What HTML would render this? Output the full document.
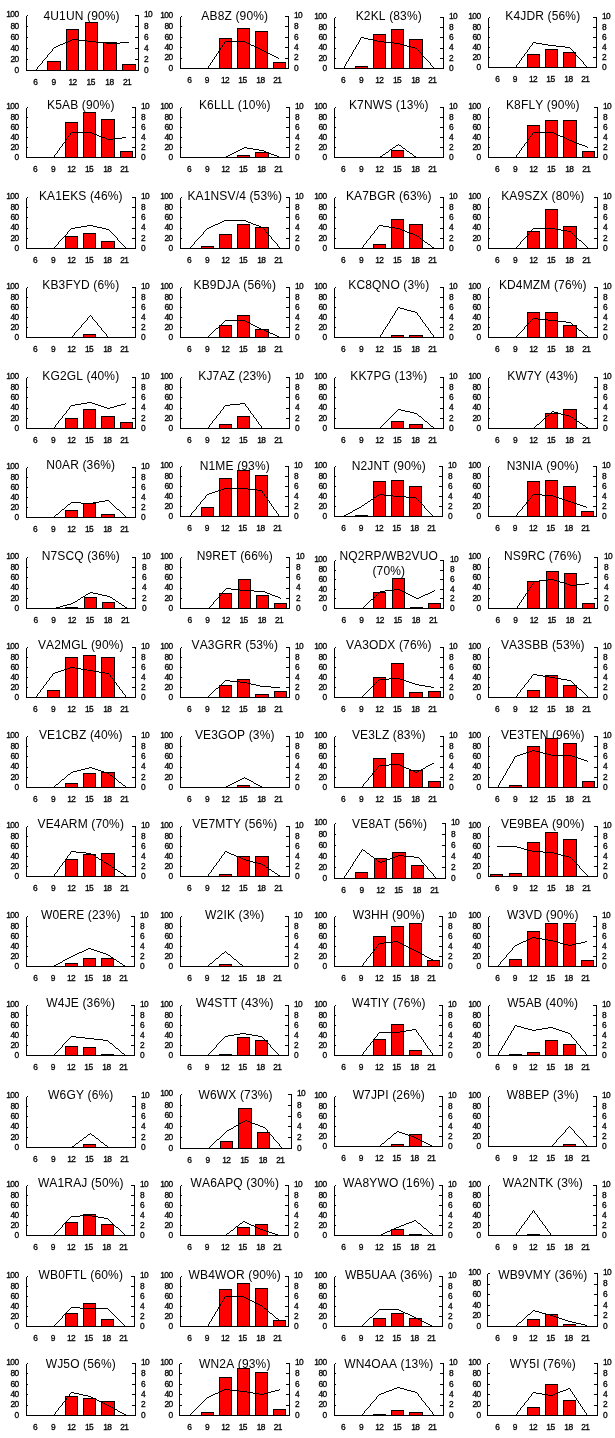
<!DOCTYPE html>
<html lang="en"><head><meta charset="utf-8"><title>Station activity charts</title>
<style>
html,body{margin:0;padding:0;background:#fff}
svg{display:block}
text{font-family:"Liberation Sans",sans-serif;fill:#000}
.t{font-size:12px;text-anchor:middle;letter-spacing:.15px;font-kerning:none}
.l,.r,.x{stroke:#000;stroke-width:.3px}
.l{font-size:8.4px;text-anchor:end;letter-spacing:-0.6px}
.r{font-size:8.4px;text-anchor:start;letter-spacing:-0.6px}
.x{font-size:8.4px;text-anchor:middle;letter-spacing:-0.6px}
.a{stroke:#000;stroke-width:1;fill:none;shape-rendering:crispEdges}
.b{fill:#f00;stroke:#000;stroke-width:1;shape-rendering:crispEdges}
.p{stroke:#000;stroke-width:1;fill:none;stroke-linejoin:round;shape-rendering:crispEdges}
</style></head><body>
<svg width="615" height="1438" viewBox="0 0 615 1438">
<rect width="615" height="1438" fill="#fff"/>
<g>
<text class="t" x="81.6" y="20">4U1UN (90%)</text>
<rect class="b" x="47.5" y="61.33" width="13" height="9.17"/>
<rect class="b" x="66.5" y="29.25" width="12" height="41.25"/>
<rect class="b" x="85.5" y="22.83" width="12" height="47.67"/>
<rect class="b" x="103.5" y="42.17" width="13" height="28.32"/>
<rect class="b" x="122.5" y="64.72" width="13" height="5.77"/>
<path class="a" d="M35.5 70v1M36.5 69v1M37.5 67v2M38.5 66v1M39.5 65v1M40.5 64v1M41.5 63v1M42.5 61v2M43.5 60v1M44.5 59v1M45.5 58v1M46.5 57v1M47.5 55v2M48.5 54v1M49.5 53v1M50.5 52v1M51.5 51v1M52.5 49v2M53.5 48v1M54.5 47v1M54 47.5h2M56 46.5h2M58 45.5h2M60 44.5h3M63 43.5h2M65 42.5h3M68 41.5h2M70 40.5h2M72 39.5h2M73 39.5h5M78 40.5h9M87 41.5h5M91 41.5h5M96 42.5h10M106 43.5h5M110 43.5h10M120 42.5h9"/>
<path class="a" d="M26.5 15.5V70.5H138.5V15.5M26.5 15.5h1.5M138.5 15.5h-3.5M26.5 26.5h1.5M138.5 26.5h-3.5M26.5 37.5h1.5M138.5 37.5h-3.5M26.5 48.5h1.5M138.5 48.5h-3.5M26.5 59.5h1.5M138.5 59.5h-3.5M26.5 70.5h1.5M138.5 70.5h-3.5"/>
<text class="l" x="18.5" y="17">100</text><text class="r" x="144" y="17">10</text>
<text class="l" x="18.5" y="28.75">80</text><text class="r" x="144" y="28.75">8</text>
<text class="l" x="18.5" y="39.75">60</text><text class="r" x="144" y="39.75">6</text>
<text class="l" x="18.5" y="50.75">40</text><text class="r" x="144" y="50.75">4</text>
<text class="l" x="18.5" y="61.75">20</text><text class="r" x="144" y="61.75">2</text>
<text class="l" x="18.5" y="72.75">0</text><text class="r" x="144" y="72.75">0</text>
<text class="x" x="35.33" y="85">6</text><text class="x" x="53.58" y="85">9</text><text class="x" x="72.53" y="85">12</text><text class="x" x="90.67" y="85">15</text><text class="x" x="109.42" y="85">18</text><text class="x" x="126.97" y="85">21</text>
</g>
<g>
<text class="t" x="234.8" y="20">AB8Z (90%)</text>
<rect class="b" x="219.5" y="38.08" width="12" height="30.42"/>
<rect class="b" x="237.5" y="28.63" width="12" height="39.87"/>
<rect class="b" x="255.5" y="31.32" width="12" height="37.18"/>
<rect class="b" x="273.5" y="62.26" width="12" height="6.24"/>
<path class="a" d="M207.5 68v1M208.5 66v2M209.5 65v1M210.5 63v2M211.5 62v1M212.5 60v2M213.5 59v1M214.5 57v2M215.5 56v1M216.5 54v2M217.5 53v1M218.5 51v2M219.5 50v1M220.5 48v2M221.5 47v1M222.5 45v2M223.5 44v1M224.5 42v2M225.5 41v1M225 41.5h19M243 41.5h2M245 42.5h2M247 43.5h2M249 44.5h2M251 45.5h3M254 46.5h2M256 47.5h2M258 48.5h2M260 49.5h2M261 49.5h1M262 50.5h2M264 51.5h2M266 52.5h2M268 53.5h2M270 54.5h2M272 55.5h2M274 56.5h2M276 57.5h2M278 58.5h1"/>
<path class="a" d="M180.5 16.5V68.5H288.5V16.5M180.5 16.5h1.5M288.5 16.5h-3.5M180.5 26.9h1.5M288.5 26.9h-3.5M180.5 37.3h1.5M288.5 37.3h-3.5M180.5 47.7h1.5M288.5 47.7h-3.5M180.5 58.1h1.5M288.5 58.1h-3.5M180.5 68.5h1.5M288.5 68.5h-3.5"/>
<text class="l" x="172.5" y="18">100</text><text class="r" x="294" y="18">10</text>
<text class="l" x="172.5" y="29.15">80</text><text class="r" x="294" y="29.15">8</text>
<text class="l" x="172.5" y="39.55">60</text><text class="r" x="294" y="39.55">6</text>
<text class="l" x="172.5" y="49.95">40</text><text class="r" x="294" y="49.95">4</text>
<text class="l" x="172.5" y="60.35">20</text><text class="r" x="294" y="60.35">2</text>
<text class="l" x="172.5" y="70.75">0</text><text class="r" x="294" y="70.75">0</text>
<text class="x" x="189.3" y="83">6</text><text class="x" x="206.8" y="83">9</text><text class="x" x="225" y="83">12</text><text class="x" x="242.4" y="83">15</text><text class="x" x="260.4" y="83">18</text><text class="x" x="277.2" y="83">21</text>
</g>
<g>
<text class="t" x="388.8" y="20.3">K2KL (83%)</text>
<rect class="b" x="355.5" y="66.8" width="12" height="1.7"/>
<rect class="b" x="373.5" y="34.5" width="12" height="34"/>
<rect class="b" x="391.5" y="29.4" width="12" height="39.1"/>
<rect class="b" x="409.5" y="39.6" width="13" height="28.9"/>
<path class="a" d="M343.5 68v1M344.5 66v2M345.5 64v2M346.5 62v2M347.5 61v1M348.5 59v2M349.5 57v2M350.5 56v1M351.5 54v2M352.5 52v2M353.5 50v2M354.5 49v1M355.5 47v2M356.5 45v2M357.5 44v1M358.5 42v2M359.5 40v2M360.5 38v2M361.5 37v1M361 37.5h3M364 38.5h4M368 39.5h5M373 40.5h4M377 41.5h3M379 41.5h5M384 42.5h10M394 43.5h5M398 43.5h2M400 44.5h4M404 45.5h3M407 46.5h4M411 47.5h4M415 48.5h2M416.5 48v1M417.5 49v1M418.5 50v1M419.5 51v1M420.5 52v1M421.5 53v2M422.5 55v1M423.5 56v1M424.5 57v1M425.5 58v1M426.5 59v1M427.5 60v1M428.5 61v1M429.5 62v1M430.5 63v2M431.5 65v1M432.5 66v1M433.5 67v1"/>
<path class="a" d="M334.5 17.5V68.5H443.5V17.5M334.5 17.5h1.5M443.5 17.5h-3.5M334.5 27.7h1.5M443.5 27.7h-3.5M334.5 37.9h1.5M443.5 37.9h-3.5M334.5 48.1h1.5M443.5 48.1h-3.5M334.5 58.3h1.5M443.5 58.3h-3.5M334.5 68.5h1.5M443.5 68.5h-3.5"/>
<text class="l" x="326.5" y="19">100</text><text class="r" x="449" y="19">10</text>
<text class="l" x="326.5" y="29.95">80</text><text class="r" x="449" y="29.95">8</text>
<text class="l" x="326.5" y="40.15">60</text><text class="r" x="449" y="40.15">6</text>
<text class="l" x="326.5" y="50.35">40</text><text class="r" x="449" y="50.35">4</text>
<text class="l" x="326.5" y="60.55">20</text><text class="r" x="449" y="60.55">2</text>
<text class="l" x="326.5" y="70.75">0</text><text class="r" x="449" y="70.75">0</text>
<text class="x" x="343.13" y="83">6</text><text class="x" x="360.91" y="83">9</text><text class="x" x="379.38" y="83">12</text><text class="x" x="397.05" y="83">15</text><text class="x" x="415.31" y="83">18</text><text class="x" x="432.39" y="83">21</text>
</g>
<g>
<text class="t" x="542.8" y="20">K4JDR (56%)</text>
<rect class="b" x="527.5" y="54.16" width="12" height="13.33"/>
<rect class="b" x="545.5" y="49.16" width="12" height="18.34"/>
<rect class="b" x="563.5" y="52.5" width="12" height="15"/>
<path class="a" d="M515.5 67v1M516.5 65v2M517.5 64v1M518.5 63v1M519.5 61v2M520.5 60v1M521.5 58v2M522.5 57v1M523.5 56v1M524.5 54v2M525.5 53v1M526.5 52v1M527.5 50v2M528.5 49v1M529.5 47v2M530.5 46v1M531.5 45v1M532.5 43v2M533.5 42v1M533 42.5h3M536 43.5h6M542 44.5h6M548 45.5h4M551 45.5h5M556 46.5h9M565 47.5h5M569.5 47v1M570.5 48v1M571.5 49v1M572.5 50v1M573.5 51v1M574.5 52v2M575.5 54v1M576.5 55v1M577.5 56v1M578.5 57v1M579.5 58v1M580.5 59v1M581.5 60v1M582.5 61v1M583.5 62v2M584.5 64v1M585.5 65v1M586.5 66v1"/>
<path class="a" d="M488.5 17.5V67.5H596.5V17.5M488.5 17.5h1.5M596.5 17.5h-3.5M488.5 27.5h1.5M596.5 27.5h-3.5M488.5 37.5h1.5M596.5 37.5h-3.5M488.5 47.5h1.5M596.5 47.5h-3.5M488.5 57.5h1.5M596.5 57.5h-3.5M488.5 67.5h1.5M596.5 67.5h-3.5"/>
<text class="l" x="480.5" y="19">100</text><text class="r" x="602" y="19">10</text>
<text class="l" x="480.5" y="29.75">80</text><text class="r" x="602" y="29.75">8</text>
<text class="l" x="480.5" y="39.75">60</text><text class="r" x="602" y="39.75">6</text>
<text class="l" x="480.5" y="49.75">40</text><text class="r" x="602" y="49.75">4</text>
<text class="l" x="480.5" y="59.75">20</text><text class="r" x="602" y="59.75">2</text>
<text class="l" x="480.5" y="69.75">0</text><text class="r" x="602" y="69.75">0</text>
<text class="x" x="497.3" y="82">6</text><text class="x" x="514.8" y="82">9</text><text class="x" x="533" y="82">12</text><text class="x" x="550.4" y="82">15</text><text class="x" x="568.4" y="82">18</text><text class="x" x="585.2" y="82">21</text>
</g>
<g>
<text class="t" x="80.8" y="109.3">K5AB (90%)</text>
<rect class="b" x="65.5" y="122.5" width="12" height="35"/>
<rect class="b" x="83.5" y="112.5" width="12" height="45"/>
<rect class="b" x="101.5" y="119.25" width="13" height="38.25"/>
<rect class="b" x="120.5" y="151.25" width="12" height="6.25"/>
<path class="a" d="M53.5 157v1M54.5 155v2M55.5 154v1M56.5 153v1M57.5 151v2M58.5 150v1M59.5 148v2M60.5 147v1M61.5 146v1M62.5 144v2M63.5 143v1M64.5 142v1M65.5 140v2M66.5 139v1M67.5 137v2M68.5 136v1M69.5 135v1M70.5 133v2M71.5 132v1M71 132.5h20M90 132.5h2M92 133.5h2M94 134.5h3M97 135.5h2M99 136.5h3M102 137.5h3M105 138.5h2M107 139.5h2M108 139.5h5M113 138.5h9M122 137.5h4"/>
<path class="a" d="M26.5 107.5V157.5H135.5V107.5M26.5 107.5h1.5M135.5 107.5h-3.5M26.5 117.5h1.5M135.5 117.5h-3.5M26.5 127.5h1.5M135.5 127.5h-3.5M26.5 137.5h1.5M135.5 137.5h-3.5M26.5 147.5h1.5M135.5 147.5h-3.5M26.5 157.5h1.5M135.5 157.5h-3.5"/>
<text class="l" x="18.5" y="109">100</text><text class="r" x="141" y="109">10</text>
<text class="l" x="18.5" y="119.75">80</text><text class="r" x="141" y="119.75">8</text>
<text class="l" x="18.5" y="129.75">60</text><text class="r" x="141" y="129.75">6</text>
<text class="l" x="18.5" y="139.75">40</text><text class="r" x="141" y="139.75">4</text>
<text class="l" x="18.5" y="149.75">20</text><text class="r" x="141" y="149.75">2</text>
<text class="l" x="18.5" y="159.75">0</text><text class="r" x="141" y="159.75">0</text>
<text class="x" x="35.14" y="172">6</text><text class="x" x="52.91" y="172">9</text><text class="x" x="71.38" y="172">12</text><text class="x" x="89.05" y="172">15</text><text class="x" x="107.31" y="172">18</text><text class="x" x="124.38" y="172">21</text>
</g>
<g>
<text class="t" x="234.8" y="109.3">K6LLL (10%)</text>
<rect class="b" x="237.5" y="155.84" width="12" height="1.67"/>
<rect class="b" x="255.5" y="152.5" width="13" height="5"/>
<path class="a" d="M225 157.5h1M226 156.5h2M228 155.5h2M230 154.5h2M232 153.5h2M234 152.5h2M236 151.5h2M238 150.5h2M240 149.5h2M242 148.5h2M244 147.5h1M244 147.5h3M247 148.5h6M253 149.5h6M259 150.5h4M262 150.5h2M264 151.5h2M266 152.5h3M269 153.5h2M271 154.5h3M274 155.5h3M277 156.5h2M279 157.5h1"/>
<path class="a" d="M180.5 107.5V157.5H289.5V107.5M180.5 107.5h1.5M289.5 107.5h-3.5M180.5 117.5h1.5M289.5 117.5h-3.5M180.5 127.5h1.5M289.5 127.5h-3.5M180.5 137.5h1.5M289.5 137.5h-3.5M180.5 147.5h1.5M289.5 147.5h-3.5M180.5 157.5h1.5M289.5 157.5h-3.5"/>
<text class="l" x="172.5" y="109">100</text><text class="r" x="295" y="109">10</text>
<text class="l" x="172.5" y="119.75">80</text><text class="r" x="295" y="119.75">8</text>
<text class="l" x="172.5" y="129.75">60</text><text class="r" x="295" y="129.75">6</text>
<text class="l" x="172.5" y="139.75">40</text><text class="r" x="295" y="139.75">4</text>
<text class="l" x="172.5" y="149.75">20</text><text class="r" x="295" y="149.75">2</text>
<text class="l" x="172.5" y="159.75">0</text><text class="r" x="295" y="159.75">0</text>
<text class="x" x="189.13" y="172">6</text><text class="x" x="206.91" y="172">9</text><text class="x" x="225.38" y="172">12</text><text class="x" x="243.05" y="172">15</text><text class="x" x="261.31" y="172">18</text><text class="x" x="278.39" y="172">21</text>
</g>
<g>
<text class="t" x="388.8" y="109.3">K7NWS (13%)</text>
<rect class="b" x="391.5" y="150.84" width="12" height="6.67"/>
<path class="a" d="M379 157.5h1M380 156.5h2M382 155.5h1M383 154.5h2M385 153.5h1M386 152.5h2M388 151.5h1M389 150.5h1M390 149.5h2M392 148.5h1M393 147.5h2M395 146.5h1M396 145.5h2M398 144.5h1M398 144.5h1M399 145.5h2M401 146.5h1M402 147.5h1M403 148.5h2M405 149.5h1M406 150.5h1M407 151.5h2M409 152.5h1M410 153.5h2M412 154.5h1M413 155.5h1M414 156.5h2M416 157.5h1"/>
<path class="a" d="M334.5 107.5V157.5H443.5V107.5M334.5 107.5h1.5M443.5 107.5h-3.5M334.5 117.5h1.5M443.5 117.5h-3.5M334.5 127.5h1.5M443.5 127.5h-3.5M334.5 137.5h1.5M443.5 137.5h-3.5M334.5 147.5h1.5M443.5 147.5h-3.5M334.5 157.5h1.5M443.5 157.5h-3.5"/>
<text class="l" x="326.5" y="109">100</text><text class="r" x="449" y="109">10</text>
<text class="l" x="326.5" y="119.75">80</text><text class="r" x="449" y="119.75">8</text>
<text class="l" x="326.5" y="129.75">60</text><text class="r" x="449" y="129.75">6</text>
<text class="l" x="326.5" y="139.75">40</text><text class="r" x="449" y="139.75">4</text>
<text class="l" x="326.5" y="149.75">20</text><text class="r" x="449" y="149.75">2</text>
<text class="l" x="326.5" y="159.75">0</text><text class="r" x="449" y="159.75">0</text>
<text class="x" x="343.13" y="172">6</text><text class="x" x="360.91" y="172">9</text><text class="x" x="379.38" y="172">12</text><text class="x" x="397.05" y="172">15</text><text class="x" x="415.31" y="172">18</text><text class="x" x="432.39" y="172">21</text>
</g>
<g>
<text class="t" x="542.8" y="109.3">K8FLY (90%)</text>
<rect class="b" x="527.5" y="125.84" width="12" height="31.66"/>
<rect class="b" x="545.5" y="120.84" width="12" height="36.66"/>
<rect class="b" x="563.5" y="120.84" width="13" height="36.66"/>
<rect class="b" x="582.5" y="151.25" width="12" height="6.25"/>
<path class="a" d="M515.5 157v1M516.5 155v2M517.5 154v1M518.5 153v1M519.5 151v2M520.5 150v1M521.5 148v2M522.5 147v1M523.5 146v1M524.5 144v2M525.5 143v1M526.5 142v1M527.5 140v2M528.5 139v1M529.5 137v2M530.5 136v1M531.5 135v1M532.5 133v2M533.5 132v1M533 132.5h20M552 132.5h2M554 133.5h2M556 134.5h2M558 135.5h2M560 136.5h3M563 137.5h2M565 138.5h2M567 139.5h2M569 140.5h2M570 140.5h2M572 141.5h2M574 142.5h3M577 143.5h2M579 144.5h3M582 145.5h3M585 146.5h2M587 147.5h1"/>
<path class="a" d="M488.5 107.5V157.5H597.5V107.5M488.5 107.5h1.5M597.5 107.5h-3.5M488.5 117.5h1.5M597.5 117.5h-3.5M488.5 127.5h1.5M597.5 127.5h-3.5M488.5 137.5h1.5M597.5 137.5h-3.5M488.5 147.5h1.5M597.5 147.5h-3.5M488.5 157.5h1.5M597.5 157.5h-3.5"/>
<text class="l" x="480.5" y="109">100</text><text class="r" x="603" y="109">10</text>
<text class="l" x="480.5" y="119.75">80</text><text class="r" x="603" y="119.75">8</text>
<text class="l" x="480.5" y="129.75">60</text><text class="r" x="603" y="129.75">6</text>
<text class="l" x="480.5" y="139.75">40</text><text class="r" x="603" y="139.75">4</text>
<text class="l" x="480.5" y="149.75">20</text><text class="r" x="603" y="149.75">2</text>
<text class="l" x="480.5" y="159.75">0</text><text class="r" x="603" y="159.75">0</text>
<text class="x" x="497.13" y="172">6</text><text class="x" x="514.91" y="172">9</text><text class="x" x="533.38" y="172">12</text><text class="x" x="551.04" y="172">15</text><text class="x" x="569.31" y="172">18</text><text class="x" x="586.38" y="172">21</text>
</g>
<g>
<text class="t" x="80.8" y="200.3">KA1EKS (46%)</text>
<rect class="b" x="65.5" y="236.6" width="12" height="11.9"/>
<rect class="b" x="83.5" y="233.2" width="12" height="15.3"/>
<rect class="b" x="101.5" y="241.7" width="13" height="6.8"/>
<path class="a" d="M53.5 248v1M54.5 247v1M55.5 246v1M56.5 245v1M57.5 244v1M58.5 242v2M59.5 241v1M60.5 240v1M61.5 239v1M62.5 238v1M63.5 237v1M64.5 236v1M65.5 235v1M66.5 234v1M67.5 232v2M68.5 231v1M69.5 230v1M70.5 229v1M71.5 228v1M71 228.5h4M75 227.5h6M81 226.5h6M87 225.5h4M90 225.5h3M93 226.5h4M97 227.5h5M102 228.5h4M106 229.5h3M108.5 229v1M109.5 230v1M110.5 231v1M111.5 232v1M112.5 233v1M113.5 234v1M114.5 235v1M115.5 236v1M116.5 237v1M117.5 238v2M118.5 240v1M119.5 241v1M120.5 242v1M121.5 243v1M122.5 244v1M123.5 245v1M124.5 246v1M125.5 247v1"/>
<path class="a" d="M26.5 197.5V248.5H135.5V197.5M26.5 197.5h1.5M135.5 197.5h-3.5M26.5 207.7h1.5M135.5 207.7h-3.5M26.5 217.9h1.5M135.5 217.9h-3.5M26.5 228.1h1.5M135.5 228.1h-3.5M26.5 238.3h1.5M135.5 238.3h-3.5M26.5 248.5h1.5M135.5 248.5h-3.5"/>
<text class="l" x="18.5" y="199">100</text><text class="r" x="141" y="199">10</text>
<text class="l" x="18.5" y="209.95">80</text><text class="r" x="141" y="209.95">8</text>
<text class="l" x="18.5" y="220.15">60</text><text class="r" x="141" y="220.15">6</text>
<text class="l" x="18.5" y="230.35">40</text><text class="r" x="141" y="230.35">4</text>
<text class="l" x="18.5" y="240.55">20</text><text class="r" x="141" y="240.55">2</text>
<text class="l" x="18.5" y="250.75">0</text><text class="r" x="141" y="250.75">0</text>
<text class="x" x="35.14" y="263">6</text><text class="x" x="52.91" y="263">9</text><text class="x" x="71.38" y="263">12</text><text class="x" x="89.05" y="263">15</text><text class="x" x="107.31" y="263">18</text><text class="x" x="124.38" y="263">21</text>
</g>
<g>
<text class="t" x="234.8" y="200.3">KA1NSV/4 (53%)</text>
<rect class="b" x="201.5" y="246.8" width="12" height="1.7"/>
<rect class="b" x="219.5" y="234.9" width="12" height="13.6"/>
<rect class="b" x="237.5" y="224.7" width="12" height="23.8"/>
<rect class="b" x="255.5" y="227.08" width="13" height="21.42"/>
<path class="a" d="M189.5 248v1M190.5 247v1M191.5 246v1M192.5 245v1M193.5 244v1M194.5 242v2M195.5 241v1M196.5 240v1M197.5 239v1M198.5 238v1M199.5 237v1M200.5 236v1M201.5 235v1M202.5 234v1M203.5 232v2M204.5 231v1M205.5 230v1M206.5 229v1M207.5 228v1M207 228.5h2M209 227.5h2M211 226.5h2M213 225.5h2M215 224.5h3M218 223.5h2M220 222.5h2M222 221.5h2M224 220.5h2M225 220.5h20M244 220.5h2M246 221.5h2M248 222.5h3M251 223.5h2M253 224.5h3M256 225.5h3M259 226.5h2M261 227.5h2M262.5 227v1M263.5 228v1M264.5 229v1M265.5 230v2M266.5 232v1M267.5 233v1M268.5 234v1M269.5 235v1M270.5 236v1M271.5 237v2M272.5 239v1M273.5 240v1M274.5 241v1M275.5 242v1M276.5 243v1M277.5 244v2M278.5 246v1M279.5 247v1"/>
<path class="a" d="M180.5 197.5V248.5H289.5V197.5M180.5 197.5h1.5M289.5 197.5h-3.5M180.5 207.7h1.5M289.5 207.7h-3.5M180.5 217.9h1.5M289.5 217.9h-3.5M180.5 228.1h1.5M289.5 228.1h-3.5M180.5 238.3h1.5M289.5 238.3h-3.5M180.5 248.5h1.5M289.5 248.5h-3.5"/>
<text class="l" x="172.5" y="199">100</text><text class="r" x="295" y="199">10</text>
<text class="l" x="172.5" y="209.95">80</text><text class="r" x="295" y="209.95">8</text>
<text class="l" x="172.5" y="220.15">60</text><text class="r" x="295" y="220.15">6</text>
<text class="l" x="172.5" y="230.35">40</text><text class="r" x="295" y="230.35">4</text>
<text class="l" x="172.5" y="240.55">20</text><text class="r" x="295" y="240.55">2</text>
<text class="l" x="172.5" y="250.75">0</text><text class="r" x="295" y="250.75">0</text>
<text class="x" x="189.13" y="263">6</text><text class="x" x="206.91" y="263">9</text><text class="x" x="225.38" y="263">12</text><text class="x" x="243.05" y="263">15</text><text class="x" x="261.31" y="263">18</text><text class="x" x="278.39" y="263">21</text>
</g>
<g>
<text class="t" x="388.8" y="200.3">KA7BGR (63%)</text>
<rect class="b" x="373.5" y="244.16" width="12" height="4.33"/>
<rect class="b" x="391.5" y="219.6" width="12" height="28.9"/>
<rect class="b" x="409.5" y="224.7" width="13" height="23.8"/>
<path class="a" d="M361.5 248v1M362.5 247v1M363.5 245v2M364.5 244v1M365.5 243v1M366.5 241v2M367.5 240v1M368.5 239v1M369.5 238v1M370.5 236v2M371.5 235v1M372.5 234v1M373.5 233v1M374.5 231v2M375.5 230v1M376.5 229v1M377.5 227v2M378.5 226v1M379.5 225v1M379 225.5h4M383 226.5h6M389 227.5h6M395 228.5h4M398 228.5h2M400 229.5h2M402 230.5h3M405 231.5h2M407 232.5h3M410 233.5h3M413 234.5h2M415 235.5h2M416 235.5h1M417 236.5h2M419 237.5h1M420 238.5h1M421 239.5h2M423 240.5h1M424 241.5h1M425 242.5h2M427 243.5h1M428 244.5h2M430 245.5h1M431 246.5h1M432 247.5h2"/>
<path class="a" d="M334.5 197.5V248.5H443.5V197.5M334.5 197.5h1.5M443.5 197.5h-3.5M334.5 207.7h1.5M443.5 207.7h-3.5M334.5 217.9h1.5M443.5 217.9h-3.5M334.5 228.1h1.5M443.5 228.1h-3.5M334.5 238.3h1.5M443.5 238.3h-3.5M334.5 248.5h1.5M443.5 248.5h-3.5"/>
<text class="l" x="326.5" y="199">100</text><text class="r" x="449" y="199">10</text>
<text class="l" x="326.5" y="209.95">80</text><text class="r" x="449" y="209.95">8</text>
<text class="l" x="326.5" y="220.15">60</text><text class="r" x="449" y="220.15">6</text>
<text class="l" x="326.5" y="230.35">40</text><text class="r" x="449" y="230.35">4</text>
<text class="l" x="326.5" y="240.55">20</text><text class="r" x="449" y="240.55">2</text>
<text class="l" x="326.5" y="250.75">0</text><text class="r" x="449" y="250.75">0</text>
<text class="x" x="343.13" y="263">6</text><text class="x" x="360.91" y="263">9</text><text class="x" x="379.38" y="263">12</text><text class="x" x="397.05" y="263">15</text><text class="x" x="415.31" y="263">18</text><text class="x" x="432.39" y="263">21</text>
</g>
<g>
<text class="t" x="542.8" y="200.3">KA9SZX (80%)</text>
<rect class="b" x="527.5" y="231.5" width="12" height="17"/>
<rect class="b" x="545.5" y="209.4" width="12" height="39.1"/>
<rect class="b" x="563.5" y="226.4" width="13" height="22.1"/>
<path class="a" d="M515.5 248v1M516.5 247v1M517.5 246v1M518.5 245v1M519.5 244v1M520.5 242v2M521.5 241v1M522.5 240v1M523.5 239v1M524.5 238v1M525.5 237v1M526.5 236v1M527.5 235v1M528.5 234v1M529.5 232v2M530.5 231v1M531.5 230v1M532.5 229v1M533.5 228v1M533 228.5h20M552 228.5h3M555 229.5h6M561 230.5h6M567 231.5h4M570 231.5h1M571 232.5h1M572 233.5h1M573 234.5h1M574 235.5h1M575 236.5h1M576 237.5h1M577 238.5h1M578 239.5h1M579 240.5h2M581 241.5h1M582 242.5h1M583 243.5h1M584 244.5h1M585 245.5h1M586 246.5h1M587 247.5h1"/>
<path class="a" d="M488.5 197.5V248.5H597.5V197.5M488.5 197.5h1.5M597.5 197.5h-3.5M488.5 207.7h1.5M597.5 207.7h-3.5M488.5 217.9h1.5M597.5 217.9h-3.5M488.5 228.1h1.5M597.5 228.1h-3.5M488.5 238.3h1.5M597.5 238.3h-3.5M488.5 248.5h1.5M597.5 248.5h-3.5"/>
<text class="l" x="480.5" y="199">100</text><text class="r" x="603" y="199">10</text>
<text class="l" x="480.5" y="209.95">80</text><text class="r" x="603" y="209.95">8</text>
<text class="l" x="480.5" y="220.15">60</text><text class="r" x="603" y="220.15">6</text>
<text class="l" x="480.5" y="230.35">40</text><text class="r" x="603" y="230.35">4</text>
<text class="l" x="480.5" y="240.55">20</text><text class="r" x="603" y="240.55">2</text>
<text class="l" x="480.5" y="250.75">0</text><text class="r" x="603" y="250.75">0</text>
<text class="x" x="497.13" y="263">6</text><text class="x" x="514.91" y="263">9</text><text class="x" x="533.38" y="263">12</text><text class="x" x="551.04" y="263">15</text><text class="x" x="569.31" y="263">18</text><text class="x" x="586.38" y="263">21</text>
</g>
<g>
<text class="t" x="80.8" y="289.3">KB3FYD (6%)</text>
<rect class="b" x="83.5" y="334.5" width="12" height="3"/>
<path class="a" d="M71.5 337v1M72.5 336v1M73.5 335v1M74.5 333v2M75.5 332v1M76.5 331v1M77.5 330v1M78.5 329v1M79.5 328v1M80.5 327v1M81.5 325v2M82.5 324v1M83.5 323v1M84.5 322v1M85.5 321v1M86.5 320v1M87.5 318v2M88.5 317v1M89.5 316v1M90.5 315v1M90.5 315v1M91.5 316v1M92.5 317v2M93.5 319v1M94.5 320v1M95.5 321v1M96.5 322v1M97.5 323v2M98.5 325v1M99.5 326v1M100.5 327v1M101.5 328v2M102.5 330v1M103.5 331v1M104.5 332v1M105.5 333v1M106.5 334v2M107.5 336v1M108.5 337v1"/>
<path class="a" d="M26.5 287.5V337.5H135.5V287.5M26.5 287.5h1.5M135.5 287.5h-3.5M26.5 297.5h1.5M135.5 297.5h-3.5M26.5 307.5h1.5M135.5 307.5h-3.5M26.5 317.5h1.5M135.5 317.5h-3.5M26.5 327.5h1.5M135.5 327.5h-3.5M26.5 337.5h1.5M135.5 337.5h-3.5"/>
<text class="l" x="18.5" y="289">100</text><text class="r" x="141" y="289">10</text>
<text class="l" x="18.5" y="299.75">80</text><text class="r" x="141" y="299.75">8</text>
<text class="l" x="18.5" y="309.75">60</text><text class="r" x="141" y="309.75">6</text>
<text class="l" x="18.5" y="319.75">40</text><text class="r" x="141" y="319.75">4</text>
<text class="l" x="18.5" y="329.75">20</text><text class="r" x="141" y="329.75">2</text>
<text class="l" x="18.5" y="339.75">0</text><text class="r" x="141" y="339.75">0</text>
<text class="x" x="35.14" y="352">6</text><text class="x" x="52.91" y="352">9</text><text class="x" x="71.38" y="352">12</text><text class="x" x="89.05" y="352">15</text><text class="x" x="107.31" y="352">18</text><text class="x" x="124.38" y="352">21</text>
</g>
<g>
<text class="t" x="234.8" y="289.3">KB9DJA (56%)</text>
<rect class="b" x="219.5" y="325.83" width="12" height="11.66"/>
<rect class="b" x="237.5" y="315.83" width="12" height="21.66"/>
<rect class="b" x="255.5" y="329.17" width="13" height="8.34"/>
<path class="a" d="M207 337.5h1M208 336.5h1M209 335.5h1M210 334.5h1M211 333.5h1M212 332.5h1M213 331.5h1M214 330.5h1M215 329.5h1M216 328.5h2M218 327.5h1M219 326.5h1M220 325.5h1M221 324.5h1M222 323.5h1M223 322.5h1M224 321.5h1M225 320.5h1M225 320.5h20M244 320.5h1M245 321.5h2M247 322.5h2M249 323.5h2M251 324.5h2M253 325.5h2M255 326.5h2M257 327.5h2M259 328.5h2M261 329.5h2M262 329.5h2M264 330.5h2M266 331.5h2M268 332.5h2M270 333.5h3M273 334.5h2M275 335.5h2M277 336.5h2M279 337.5h1"/>
<path class="a" d="M180.5 287.5V337.5H289.5V287.5M180.5 287.5h1.5M289.5 287.5h-3.5M180.5 297.5h1.5M289.5 297.5h-3.5M180.5 307.5h1.5M289.5 307.5h-3.5M180.5 317.5h1.5M289.5 317.5h-3.5M180.5 327.5h1.5M289.5 327.5h-3.5M180.5 337.5h1.5M289.5 337.5h-3.5"/>
<text class="l" x="172.5" y="289">100</text><text class="r" x="295" y="289">10</text>
<text class="l" x="172.5" y="299.75">80</text><text class="r" x="295" y="299.75">8</text>
<text class="l" x="172.5" y="309.75">60</text><text class="r" x="295" y="309.75">6</text>
<text class="l" x="172.5" y="319.75">40</text><text class="r" x="295" y="319.75">4</text>
<text class="l" x="172.5" y="329.75">20</text><text class="r" x="295" y="329.75">2</text>
<text class="l" x="172.5" y="339.75">0</text><text class="r" x="295" y="339.75">0</text>
<text class="x" x="189.13" y="352">6</text><text class="x" x="206.91" y="352">9</text><text class="x" x="225.38" y="352">12</text><text class="x" x="243.05" y="352">15</text><text class="x" x="261.31" y="352">18</text><text class="x" x="278.39" y="352">21</text>
</g>
<g>
<text class="t" x="388.8" y="289.3">KC8QNO (3%)</text>
<rect class="b" x="391.5" y="335.83" width="12" height="1.67"/>
<rect class="b" x="409.5" y="335.83" width="13" height="1.67"/>
<path class="a" d="M379.5 337v1M380.5 335v2M381.5 334v1M382.5 332v2M383.5 330v2M384.5 329v1M385.5 327v2M386.5 326v1M387.5 324v2M388.5 323v1M389.5 321v2M390.5 319v2M391.5 318v1M392.5 316v2M393.5 315v1M394.5 313v2M395.5 311v2M396.5 310v1M397.5 308v2M398.5 307v1M398 307.5h2M400 308.5h4M404 309.5h3M407 310.5h4M411 311.5h4M415 312.5h2M416.5 312v1M417.5 313v2M418.5 315v1M419.5 316v1M420.5 317v2M421.5 319v1M422.5 320v2M423.5 322v1M424.5 323v1M425.5 324v2M426.5 326v1M427.5 327v1M428.5 328v2M429.5 330v1M430.5 331v2M431.5 333v1M432.5 334v1M433.5 335v2"/>
<path class="a" d="M334.5 287.5V337.5H443.5V287.5M334.5 287.5h1.5M443.5 287.5h-3.5M334.5 297.5h1.5M443.5 297.5h-3.5M334.5 307.5h1.5M443.5 307.5h-3.5M334.5 317.5h1.5M443.5 317.5h-3.5M334.5 327.5h1.5M443.5 327.5h-3.5M334.5 337.5h1.5M443.5 337.5h-3.5"/>
<text class="l" x="326.5" y="289">100</text><text class="r" x="449" y="289">10</text>
<text class="l" x="326.5" y="299.75">80</text><text class="r" x="449" y="299.75">8</text>
<text class="l" x="326.5" y="309.75">60</text><text class="r" x="449" y="309.75">6</text>
<text class="l" x="326.5" y="319.75">40</text><text class="r" x="449" y="319.75">4</text>
<text class="l" x="326.5" y="329.75">20</text><text class="r" x="449" y="329.75">2</text>
<text class="l" x="326.5" y="339.75">0</text><text class="r" x="449" y="339.75">0</text>
<text class="x" x="343.13" y="352">6</text><text class="x" x="360.91" y="352">9</text><text class="x" x="379.38" y="352">12</text><text class="x" x="397.05" y="352">15</text><text class="x" x="415.31" y="352">18</text><text class="x" x="432.39" y="352">21</text>
</g>
<g>
<text class="t" x="542.8" y="289.3">KD4MZM (76%)</text>
<rect class="b" x="527.5" y="312.5" width="12" height="25"/>
<rect class="b" x="545.5" y="312.5" width="12" height="25"/>
<rect class="b" x="563.5" y="325.83" width="13" height="11.66"/>
<path class="a" d="M515.5 337v1M516.5 336v1M517.5 335v1M518.5 334v1M519.5 333v1M520.5 332v1M521.5 331v1M522.5 330v1M523.5 329v1M524.5 327v2M525.5 326v1M526.5 325v1M527.5 324v1M528.5 323v1M529.5 322v1M530.5 321v1M531.5 320v1M532.5 319v1M533.5 318v1M533 318.5h5M538 319.5h10M548 320.5h5M552 320.5h5M557 321.5h9M566 322.5h5M570 322.5h1M571 323.5h1M572 324.5h1M573 325.5h2M575 326.5h1M576 327.5h1M577 328.5h1M578 329.5h1M579 330.5h2M581 331.5h1M582 332.5h1M583 333.5h1M584 334.5h1M585 335.5h2M587 336.5h1"/>
<path class="a" d="M488.5 287.5V337.5H597.5V287.5M488.5 287.5h1.5M597.5 287.5h-3.5M488.5 297.5h1.5M597.5 297.5h-3.5M488.5 307.5h1.5M597.5 307.5h-3.5M488.5 317.5h1.5M597.5 317.5h-3.5M488.5 327.5h1.5M597.5 327.5h-3.5M488.5 337.5h1.5M597.5 337.5h-3.5"/>
<text class="l" x="480.5" y="289">100</text><text class="r" x="603" y="289">10</text>
<text class="l" x="480.5" y="299.75">80</text><text class="r" x="603" y="299.75">8</text>
<text class="l" x="480.5" y="309.75">60</text><text class="r" x="603" y="309.75">6</text>
<text class="l" x="480.5" y="319.75">40</text><text class="r" x="603" y="319.75">4</text>
<text class="l" x="480.5" y="329.75">20</text><text class="r" x="603" y="329.75">2</text>
<text class="l" x="480.5" y="339.75">0</text><text class="r" x="603" y="339.75">0</text>
<text class="x" x="497.13" y="352">6</text><text class="x" x="514.91" y="352">9</text><text class="x" x="533.38" y="352">12</text><text class="x" x="551.04" y="352">15</text><text class="x" x="569.31" y="352">18</text><text class="x" x="586.38" y="352">21</text>
</g>
<g>
<text class="t" x="80.8" y="380.3">KG2GL (40%)</text>
<rect class="b" x="65.5" y="418.96" width="12" height="9.54"/>
<rect class="b" x="83.5" y="409.8" width="12" height="18.7"/>
<rect class="b" x="101.5" y="416.6" width="13" height="11.9"/>
<rect class="b" x="120.5" y="422.38" width="12" height="6.12"/>
<path class="a" d="M53.5 428v1M54.5 427v1M55.5 425v2M56.5 424v1M57.5 423v1M58.5 421v2M59.5 420v1M60.5 419v1M61.5 418v1M62.5 416v2M63.5 415v1M64.5 414v1M65.5 413v1M66.5 411v2M67.5 410v1M68.5 409v1M69.5 407v2M70.5 406v1M71.5 405v1M71 405.5h4M75 404.5h6M81 403.5h6M87 402.5h4M90 402.5h2M92 403.5h3M95 404.5h3M98 405.5h3M101 406.5h3M104 407.5h3M107 408.5h2M108 408.5h2M110 407.5h4M114 406.5h3M117 405.5h4M121 404.5h4M125 403.5h1"/>
<path class="a" d="M26.5 377.5V428.5H135.5V377.5M26.5 377.5h1.5M135.5 377.5h-3.5M26.5 387.7h1.5M135.5 387.7h-3.5M26.5 397.9h1.5M135.5 397.9h-3.5M26.5 408.1h1.5M135.5 408.1h-3.5M26.5 418.3h1.5M135.5 418.3h-3.5M26.5 428.5h1.5M135.5 428.5h-3.5"/>
<text class="l" x="18.5" y="379">100</text><text class="r" x="141" y="379">10</text>
<text class="l" x="18.5" y="389.95">80</text><text class="r" x="141" y="389.95">8</text>
<text class="l" x="18.5" y="400.15">60</text><text class="r" x="141" y="400.15">6</text>
<text class="l" x="18.5" y="410.35">40</text><text class="r" x="141" y="410.35">4</text>
<text class="l" x="18.5" y="420.55">20</text><text class="r" x="141" y="420.55">2</text>
<text class="l" x="18.5" y="430.75">0</text><text class="r" x="141" y="430.75">0</text>
<text class="x" x="35.14" y="443">6</text><text class="x" x="52.91" y="443">9</text><text class="x" x="71.38" y="443">12</text><text class="x" x="89.05" y="443">15</text><text class="x" x="107.31" y="443">18</text><text class="x" x="124.38" y="443">21</text>
</g>
<g>
<text class="t" x="234.8" y="380.3">KJ7AZ (23%)</text>
<rect class="b" x="219.5" y="424.42" width="12" height="4.08"/>
<rect class="b" x="237.5" y="416.6" width="12" height="11.9"/>
<path class="a" d="M207.5 428v1M208.5 427v1M209.5 425v2M210.5 424v1M211.5 423v1M212.5 421v2M213.5 420v1M214.5 419v1M215.5 418v1M216.5 416v2M217.5 415v1M218.5 414v1M219.5 413v1M220.5 411v2M221.5 410v1M222.5 409v1M223.5 407v2M224.5 406v1M225.5 405v1M225 405.5h5M230 404.5h10M240 403.5h5M244.5 403v1M245.5 404v2M246.5 406v1M247.5 407v1M248.5 408v2M249.5 410v1M250.5 411v2M251.5 413v1M252.5 414v1M253.5 415v2M254.5 417v1M255.5 418v1M256.5 419v2M257.5 421v1M258.5 422v2M259.5 424v1M260.5 425v1M261.5 426v2M262.5 428v1"/>
<path class="a" d="M180.5 377.5V428.5H289.5V377.5M180.5 377.5h1.5M289.5 377.5h-3.5M180.5 387.7h1.5M289.5 387.7h-3.5M180.5 397.9h1.5M289.5 397.9h-3.5M180.5 408.1h1.5M289.5 408.1h-3.5M180.5 418.3h1.5M289.5 418.3h-3.5M180.5 428.5h1.5M289.5 428.5h-3.5"/>
<text class="l" x="172.5" y="379">100</text><text class="r" x="295" y="379">10</text>
<text class="l" x="172.5" y="389.95">80</text><text class="r" x="295" y="389.95">8</text>
<text class="l" x="172.5" y="400.15">60</text><text class="r" x="295" y="400.15">6</text>
<text class="l" x="172.5" y="410.35">40</text><text class="r" x="295" y="410.35">4</text>
<text class="l" x="172.5" y="420.55">20</text><text class="r" x="295" y="420.55">2</text>
<text class="l" x="172.5" y="430.75">0</text><text class="r" x="295" y="430.75">0</text>
<text class="x" x="189.13" y="443">6</text><text class="x" x="206.91" y="443">9</text><text class="x" x="225.38" y="443">12</text><text class="x" x="243.05" y="443">15</text><text class="x" x="261.31" y="443">18</text><text class="x" x="278.39" y="443">21</text>
</g>
<g>
<text class="t" x="388.8" y="380.3">KK7PG (13%)</text>
<rect class="b" x="391.5" y="421.7" width="12" height="6.8"/>
<rect class="b" x="409.5" y="424.42" width="13" height="4.08"/>
<path class="a" d="M379 428.5h1M380 427.5h1M381 426.5h1M382 425.5h1M383 424.5h1M384 423.5h1M385 422.5h1M386 421.5h1M387 420.5h1M388 419.5h1M389 418.5h1M390 417.5h1M391 416.5h1M392 415.5h1M393 414.5h1M394 413.5h1M395 412.5h1M396 411.5h1M397 410.5h1M398 409.5h1M398 409.5h3M401 410.5h4M405 411.5h5M410 412.5h4M414 413.5h3M416 413.5h1M417 414.5h1M418 415.5h1M419 416.5h2M421 417.5h1M422 418.5h1M423 419.5h1M424 420.5h1M425 421.5h2M427 422.5h1M428 423.5h1M429 424.5h1M430 425.5h1M431 426.5h2M433 427.5h1"/>
<path class="a" d="M334.5 377.5V428.5H443.5V377.5M334.5 377.5h1.5M443.5 377.5h-3.5M334.5 387.7h1.5M443.5 387.7h-3.5M334.5 397.9h1.5M443.5 397.9h-3.5M334.5 408.1h1.5M443.5 408.1h-3.5M334.5 418.3h1.5M443.5 418.3h-3.5M334.5 428.5h1.5M443.5 428.5h-3.5"/>
<text class="l" x="326.5" y="379">100</text><text class="r" x="449" y="379">10</text>
<text class="l" x="326.5" y="389.95">80</text><text class="r" x="449" y="389.95">8</text>
<text class="l" x="326.5" y="400.15">60</text><text class="r" x="449" y="400.15">6</text>
<text class="l" x="326.5" y="410.35">40</text><text class="r" x="449" y="410.35">4</text>
<text class="l" x="326.5" y="420.55">20</text><text class="r" x="449" y="420.55">2</text>
<text class="l" x="326.5" y="430.75">0</text><text class="r" x="449" y="430.75">0</text>
<text class="x" x="343.13" y="443">6</text><text class="x" x="360.91" y="443">9</text><text class="x" x="379.38" y="443">12</text><text class="x" x="397.05" y="443">15</text><text class="x" x="415.31" y="443">18</text><text class="x" x="432.39" y="443">21</text>
</g>
<g>
<text class="t" x="542.8" y="380.3">KW7Y (43%)</text>
<rect class="b" x="545.5" y="413.91" width="12" height="14.59"/>
<rect class="b" x="563.5" y="409.8" width="13" height="18.7"/>
<path class="a" d="M533 428.5h1M534 427.5h1M535 426.5h1M536 425.5h1M537 424.5h2M539 423.5h1M540 422.5h1M541 421.5h1M542 420.5h1M543 419.5h1M544 418.5h1M545 417.5h1M546 416.5h1M547 415.5h2M549 414.5h1M550 413.5h1M551 412.5h1M552 411.5h1M552 411.5h2M554 412.5h4M558 413.5h3M561 414.5h4M565 415.5h4M569 416.5h2M570 416.5h1M571 417.5h2M573 418.5h1M574 419.5h2M576 420.5h1M577 421.5h2M579 422.5h1M580 423.5h2M582 424.5h1M583 425.5h2M585 426.5h1M586 427.5h2"/>
<path class="a" d="M488.5 377.5V428.5H597.5V377.5M488.5 377.5h1.5M597.5 377.5h-3.5M488.5 387.7h1.5M597.5 387.7h-3.5M488.5 397.9h1.5M597.5 397.9h-3.5M488.5 408.1h1.5M597.5 408.1h-3.5M488.5 418.3h1.5M597.5 418.3h-3.5M488.5 428.5h1.5M597.5 428.5h-3.5"/>
<text class="l" x="480.5" y="379">100</text><text class="r" x="603" y="379">10</text>
<text class="l" x="480.5" y="389.95">80</text><text class="r" x="603" y="389.95">8</text>
<text class="l" x="480.5" y="400.15">60</text><text class="r" x="603" y="400.15">6</text>
<text class="l" x="480.5" y="410.35">40</text><text class="r" x="603" y="410.35">4</text>
<text class="l" x="480.5" y="420.55">20</text><text class="r" x="603" y="420.55">2</text>
<text class="l" x="480.5" y="430.75">0</text><text class="r" x="603" y="430.75">0</text>
<text class="x" x="497.13" y="443">6</text><text class="x" x="514.91" y="443">9</text><text class="x" x="533.38" y="443">12</text><text class="x" x="551.04" y="443">15</text><text class="x" x="569.31" y="443">18</text><text class="x" x="586.38" y="443">21</text>
</g>
<g>
<text class="t" x="80.8" y="469.3">N0AR (36%)</text>
<rect class="b" x="65.5" y="510.83" width="12" height="6.67"/>
<rect class="b" x="83.5" y="503.2" width="12" height="14.3"/>
<rect class="b" x="101.5" y="514.16" width="13" height="3.33"/>
<path class="a" d="M53 517.5h1M54 516.5h1M55 515.5h1M56 514.5h2M58 513.5h1M59 512.5h1M60 511.5h1M61 510.5h1M62 509.5h2M64 508.5h1M65 507.5h1M66 506.5h1M67 505.5h1M68 504.5h2M70 503.5h1M71 502.5h1M71 502.5h10M81 503.5h10M90 503.5h3M93 502.5h6M99 501.5h6M105 500.5h4M108 500.5h1M109 501.5h1M110 502.5h1M111 503.5h1M112 504.5h1M113 505.5h1M114 506.5h1M115 507.5h1M116 508.5h1M117 509.5h2M119 510.5h1M120 511.5h1M121 512.5h1M122 513.5h1M123 514.5h1M124 515.5h1M125 516.5h1"/>
<path class="a" d="M26.5 467.5V517.5H135.5V467.5M26.5 467.5h1.5M135.5 467.5h-3.5M26.5 477.5h1.5M135.5 477.5h-3.5M26.5 487.5h1.5M135.5 487.5h-3.5M26.5 497.5h1.5M135.5 497.5h-3.5M26.5 507.5h1.5M135.5 507.5h-3.5M26.5 517.5h1.5M135.5 517.5h-3.5"/>
<text class="l" x="18.5" y="469">100</text><text class="r" x="141" y="469">10</text>
<text class="l" x="18.5" y="479.75">80</text><text class="r" x="141" y="479.75">8</text>
<text class="l" x="18.5" y="489.75">60</text><text class="r" x="141" y="489.75">6</text>
<text class="l" x="18.5" y="499.75">40</text><text class="r" x="141" y="499.75">4</text>
<text class="l" x="18.5" y="509.75">20</text><text class="r" x="141" y="509.75">2</text>
<text class="l" x="18.5" y="519.75">0</text><text class="r" x="141" y="519.75">0</text>
<text class="x" x="35.14" y="532">6</text><text class="x" x="52.91" y="532">9</text><text class="x" x="71.38" y="532">12</text><text class="x" x="89.05" y="532">15</text><text class="x" x="107.31" y="532">18</text><text class="x" x="124.38" y="532">21</text>
</g>
<g>
<text class="t" x="234.8" y="469.5">N1ME (93%)</text>
<rect class="b" x="201.5" y="507.65" width="12" height="8.85"/>
<rect class="b" x="219.5" y="478.17" width="12" height="38.34"/>
<rect class="b" x="237.5" y="470.5" width="12" height="46"/>
<rect class="b" x="255.5" y="475.5" width="12" height="41"/>
<path class="a" d="M189.5 516v1M190.5 515v1M191.5 513v2M192.5 512v1M193.5 511v1M194.5 510v1M195.5 509v1M196.5 507v2M197.5 506v1M198.5 505v1M199.5 504v1M200.5 502v2M201.5 501v1M202.5 500v1M203.5 499v1M204.5 498v1M205.5 496v2M206.5 495v1M207.5 494v1M207 494.5h2M209 493.5h3M212 492.5h3M215 491.5h3M218 490.5h3M221 489.5h3M224 488.5h2M225 488.5h19M243 488.5h5M248 489.5h9M257 490.5h5M261.5 490v1M262.5 491v2M263.5 493v1M264.5 494v2M265.5 496v1M266.5 497v1M267.5 498v2M268.5 500v1M269.5 501v2M270.5 503v1M271.5 504v2M272.5 506v1M273.5 507v2M274.5 509v1M275.5 510v1M276.5 511v2M277.5 513v1M278.5 514v2"/>
<path class="a" d="M180.5 466.5V516.5H288.5V466.5M180.5 466.5h1.5M288.5 466.5h-3.5M180.5 476.5h1.5M288.5 476.5h-3.5M180.5 486.5h1.5M288.5 486.5h-3.5M180.5 496.5h1.5M288.5 496.5h-3.5M180.5 506.5h1.5M288.5 506.5h-3.5M180.5 516.5h1.5M288.5 516.5h-3.5"/>
<text class="l" x="172.5" y="468">100</text><text class="r" x="294" y="468">10</text>
<text class="l" x="172.5" y="478.75">80</text><text class="r" x="294" y="478.75">8</text>
<text class="l" x="172.5" y="488.75">60</text><text class="r" x="294" y="488.75">6</text>
<text class="l" x="172.5" y="498.75">40</text><text class="r" x="294" y="498.75">4</text>
<text class="l" x="172.5" y="508.75">20</text><text class="r" x="294" y="508.75">2</text>
<text class="l" x="172.5" y="518.75">0</text><text class="r" x="294" y="518.75">0</text>
<text class="x" x="189.3" y="531">6</text><text class="x" x="206.8" y="531">9</text><text class="x" x="225" y="531">12</text><text class="x" x="242.4" y="531">15</text><text class="x" x="260.4" y="531">18</text><text class="x" x="277.2" y="531">21</text>
</g>
<g>
<text class="t" x="388.8" y="469.5">N2JNT (90%)</text>
<rect class="b" x="355.5" y="515.5" width="12" height="1"/>
<rect class="b" x="373.5" y="481.5" width="12" height="35"/>
<rect class="b" x="391.5" y="480.5" width="12" height="36"/>
<rect class="b" x="409.5" y="486.5" width="12" height="30"/>
<path class="a" d="M343 516.5h1M344 515.5h2M346 514.5h2M348 513.5h2M350 512.5h2M352 511.5h1M353 510.5h2M355 509.5h2M357 508.5h2M359 507.5h2M361 506.5h1M361 506.5h1M362 505.5h2M364 504.5h1M365 503.5h2M367 502.5h1M368 501.5h2M370 500.5h1M371 499.5h2M373 498.5h1M374 497.5h2M376 496.5h1M377 495.5h2M379 494.5h1M379 494.5h5M384 495.5h9M393 496.5h5M397 496.5h9M406 497.5h10M415.5 497v1M416.5 498v1M417.5 499v1M418.5 500v1M419.5 501v1M420.5 502v1M421.5 503v1M422.5 504v1M423.5 505v1M424.5 506v2M425.5 508v1M426.5 509v1M427.5 510v1M428.5 511v1M429.5 512v1M430.5 513v1M431.5 514v1M432.5 515v1"/>
<path class="a" d="M334.5 466.5V516.5H442.5V466.5M334.5 466.5h1.5M442.5 466.5h-3.5M334.5 476.5h1.5M442.5 476.5h-3.5M334.5 486.5h1.5M442.5 486.5h-3.5M334.5 496.5h1.5M442.5 496.5h-3.5M334.5 506.5h1.5M442.5 506.5h-3.5M334.5 516.5h1.5M442.5 516.5h-3.5"/>
<text class="l" x="326.5" y="468">100</text><text class="r" x="448" y="468">10</text>
<text class="l" x="326.5" y="478.75">80</text><text class="r" x="448" y="478.75">8</text>
<text class="l" x="326.5" y="488.75">60</text><text class="r" x="448" y="488.75">6</text>
<text class="l" x="326.5" y="498.75">40</text><text class="r" x="448" y="498.75">4</text>
<text class="l" x="326.5" y="508.75">20</text><text class="r" x="448" y="508.75">2</text>
<text class="l" x="326.5" y="518.75">0</text><text class="r" x="448" y="518.75">0</text>
<text class="x" x="343.3" y="531">6</text><text class="x" x="360.8" y="531">9</text><text class="x" x="379" y="531">12</text><text class="x" x="396.4" y="531">15</text><text class="x" x="414.4" y="531">18</text><text class="x" x="431.2" y="531">21</text>
</g>
<g>
<text class="t" x="542.8" y="469.5">N3NIA (90%)</text>
<rect class="b" x="527.5" y="481.5" width="12" height="35"/>
<rect class="b" x="545.5" y="480.5" width="12" height="36"/>
<rect class="b" x="563.5" y="486.5" width="12" height="30"/>
<rect class="b" x="581.5" y="511.5" width="12" height="5"/>
<path class="a" d="M515.5 516v1M516.5 515v1M517.5 513v2M518.5 512v1M519.5 511v1M520.5 510v1M521.5 509v1M522.5 507v2M523.5 506v1M524.5 505v1M525.5 504v1M526.5 502v2M527.5 501v1M528.5 500v1M529.5 499v1M530.5 498v1M531.5 496v2M532.5 495v1M533.5 494v1M533 494.5h9M542 495.5h10M551 495.5h2M553 496.5h3M556 497.5h3M559 498.5h3M562 499.5h3M565 500.5h3M568 501.5h2M569 501.5h2M571 502.5h3M574 503.5h3M577 504.5h3M580 505.5h3M583 506.5h3M586 507.5h1"/>
<path class="a" d="M488.5 466.5V516.5H596.5V466.5M488.5 466.5h1.5M596.5 466.5h-3.5M488.5 476.5h1.5M596.5 476.5h-3.5M488.5 486.5h1.5M596.5 486.5h-3.5M488.5 496.5h1.5M596.5 496.5h-3.5M488.5 506.5h1.5M596.5 506.5h-3.5M488.5 516.5h1.5M596.5 516.5h-3.5"/>
<text class="l" x="480.5" y="468">100</text><text class="r" x="602" y="468">10</text>
<text class="l" x="480.5" y="478.75">80</text><text class="r" x="602" y="478.75">8</text>
<text class="l" x="480.5" y="488.75">60</text><text class="r" x="602" y="488.75">6</text>
<text class="l" x="480.5" y="498.75">40</text><text class="r" x="602" y="498.75">4</text>
<text class="l" x="480.5" y="508.75">20</text><text class="r" x="602" y="508.75">2</text>
<text class="l" x="480.5" y="518.75">0</text><text class="r" x="602" y="518.75">0</text>
<text class="x" x="497.3" y="531">6</text><text class="x" x="514.8" y="531">9</text><text class="x" x="533" y="531">12</text><text class="x" x="550.4" y="531">15</text><text class="x" x="568.4" y="531">18</text><text class="x" x="585.2" y="531">21</text>
</g>
<g>
<text class="t" x="80.8" y="560.3">N7SCQ (36%)</text>
<rect class="b" x="65.5" y="607.48" width="12" height="1.02"/>
<rect class="b" x="84.5" y="597.53" width="12" height="10.96"/>
<rect class="b" x="102.5" y="602.53" width="12" height="5.97"/>
<path class="a" d="M54 608.5h2M56 607.5h4M60 606.5h3M63 605.5h4M67 604.5h4M71 603.5h2M72 603.5h1M73 602.5h2M75 601.5h2M77 600.5h1M78 599.5h2M80 598.5h1M81 597.5h2M83 596.5h2M85 595.5h1M86 594.5h2M88 593.5h2M90 592.5h1M90 592.5h3M93 593.5h5M98 594.5h4M102 595.5h5M107 596.5h3M109 596.5h1M110 597.5h2M112 598.5h1M113 599.5h2M115 600.5h1M116 601.5h2M118 602.5h1M119 603.5h2M121 604.5h1M122 605.5h2M124 606.5h1M125 607.5h2"/>
<path class="a" d="M26.5 557.5V608.5H135.5V557.5M26.5 557.5h1.5M135.5 557.5h-3.5M26.5 567.7h1.5M135.5 567.7h-3.5M26.5 577.9h1.5M135.5 577.9h-3.5M26.5 588.1h1.5M135.5 588.1h-3.5M26.5 598.3h1.5M135.5 598.3h-3.5M26.5 608.5h1.5M135.5 608.5h-3.5"/>
<text class="l" x="18.5" y="559">100</text><text class="r" x="142" y="559">10</text>
<text class="l" x="18.5" y="569.95">80</text><text class="r" x="142" y="569.95">8</text>
<text class="l" x="18.5" y="580.15">60</text><text class="r" x="142" y="580.15">6</text>
<text class="l" x="18.5" y="590.35">40</text><text class="r" x="142" y="590.35">4</text>
<text class="l" x="18.5" y="600.55">20</text><text class="r" x="142" y="600.55">2</text>
<text class="l" x="18.5" y="610.75">0</text><text class="r" x="142" y="610.75">0</text>
<text class="x" x="35.55" y="623">6</text><text class="x" x="53.35" y="623">9</text><text class="x" x="71.85" y="623">12</text><text class="x" x="89.55" y="623">15</text><text class="x" x="107.85" y="623">18</text><text class="x" x="124.95" y="623">21</text>
</g>
<g>
<text class="t" x="234.8" y="560.3">N9RET (66%)</text>
<rect class="b" x="219.5" y="593.2" width="12" height="15.3"/>
<rect class="b" x="238.5" y="579.6" width="12" height="28.9"/>
<rect class="b" x="256.5" y="595.5" width="12" height="13.01"/>
<rect class="b" x="274.5" y="603.4" width="12" height="5.1"/>
<path class="a" d="M208.5 608v1M209.5 607v1M210.5 606v1M211.5 605v1M212.5 604v1M213.5 602v2M214.5 601v1M215.5 600v1M216.5 599v1M217.5 598v1M218.5 597v1M219.5 596v1M220.5 595v1M221.5 594v1M222.5 592v2M223.5 591v1M224.5 590v1M225.5 589v1M226.5 588v1M226 588.5h5M231 589.5h9M240 590.5h5M244 590.5h10M254 591.5h10M263 591.5h2M265 592.5h2M267 593.5h3M270 594.5h2M272 595.5h3M275 596.5h3M278 597.5h2M280 598.5h1"/>
<path class="a" d="M180.5 557.5V608.5H289.5V557.5M180.5 557.5h1.5M289.5 557.5h-3.5M180.5 567.7h1.5M289.5 567.7h-3.5M180.5 577.9h1.5M289.5 577.9h-3.5M180.5 588.1h1.5M289.5 588.1h-3.5M180.5 598.3h1.5M289.5 598.3h-3.5M180.5 608.5h1.5M289.5 608.5h-3.5"/>
<text class="l" x="172.5" y="559">100</text><text class="r" x="296" y="559">10</text>
<text class="l" x="172.5" y="569.95">80</text><text class="r" x="296" y="569.95">8</text>
<text class="l" x="172.5" y="580.15">60</text><text class="r" x="296" y="580.15">6</text>
<text class="l" x="172.5" y="590.35">40</text><text class="r" x="296" y="590.35">4</text>
<text class="l" x="172.5" y="600.55">20</text><text class="r" x="296" y="600.55">2</text>
<text class="l" x="172.5" y="610.75">0</text><text class="r" x="296" y="610.75">0</text>
<text class="x" x="189.55" y="623">6</text><text class="x" x="207.35" y="623">9</text><text class="x" x="225.85" y="623">12</text><text class="x" x="243.55" y="623">15</text><text class="x" x="261.85" y="623">18</text><text class="x" x="278.95" y="623">21</text>
</g>
<g>
<text class="t" x="388.8" y="559.5">NQ2RP/WB2VUO</text>
<text class="t" x="388.8" y="575">(70%)</text>
<rect class="b" x="373.5" y="592.5" width="12" height="16"/>
<rect class="b" x="392.5" y="578.1" width="12" height="30.4"/>
<rect class="b" x="410.5" y="607.54" width="12" height="0.96"/>
<rect class="b" x="428.5" y="603.7" width="12" height="4.8"/>
<path class="a" d="M362 608.5h1M363 607.5h1M364 606.5h1M365 605.5h1M366 604.5h1M367 603.5h1M368 602.5h1M369 601.5h1M370 600.5h1M371 599.5h2M373 598.5h1M374 597.5h1M375 596.5h1M376 595.5h1M377 594.5h1M378 593.5h1M379 592.5h1M380 591.5h1M380 591.5h5M385 590.5h9M394 589.5h5M398 589.5h2M400 590.5h2M402 591.5h2M404 592.5h2M406 593.5h2M408 594.5h2M410 595.5h2M412 596.5h2M414 597.5h2M416 598.5h2M417 598.5h2M419 597.5h2M421 596.5h2M423 595.5h2M425 594.5h3M428 593.5h2M430 592.5h2M432 591.5h2M434 590.5h1"/>
<path class="a" d="M334.5 560.5V608.5H443.5V560.5M334.5 560.5h1.5M443.5 560.5h-3.5M334.5 570.1h1.5M443.5 570.1h-3.5M334.5 579.7h1.5M443.5 579.7h-3.5M334.5 589.3h1.5M443.5 589.3h-3.5M334.5 598.9h1.5M443.5 598.9h-3.5M334.5 608.5h1.5M443.5 608.5h-3.5"/>
<text class="l" x="326.5" y="562">100</text><text class="r" x="450" y="562">10</text>
<text class="l" x="326.5" y="572.35">80</text><text class="r" x="450" y="572.35">8</text>
<text class="l" x="326.5" y="581.95">60</text><text class="r" x="450" y="581.95">6</text>
<text class="l" x="326.5" y="591.55">40</text><text class="r" x="450" y="591.55">4</text>
<text class="l" x="326.5" y="601.15">20</text><text class="r" x="450" y="601.15">2</text>
<text class="l" x="326.5" y="610.75">0</text><text class="r" x="450" y="610.75">0</text>
<text class="x" x="343.55" y="623">6</text><text class="x" x="361.35" y="623">9</text><text class="x" x="379.85" y="623">12</text><text class="x" x="397.55" y="623">15</text><text class="x" x="415.85" y="623">18</text><text class="x" x="432.95" y="623">21</text>
</g>
<g>
<text class="t" x="542.8" y="560.3">NS9RC (76%)</text>
<rect class="b" x="527.5" y="581.3" width="12" height="27.2"/>
<rect class="b" x="546.5" y="571.1" width="12" height="37.4"/>
<rect class="b" x="564.5" y="573.67" width="12" height="34.83"/>
<rect class="b" x="582.5" y="603.4" width="12" height="5.1"/>
<path class="a" d="M516.5 608v1M517.5 606v2M518.5 605v1M519.5 603v2M520.5 602v1M521.5 600v2M522.5 599v1M523.5 597v2M524.5 596v1M525.5 594v2M526.5 593v1M527.5 591v2M528.5 590v1M529.5 588v2M530.5 587v1M531.5 585v2M532.5 584v1M533.5 582v2M534.5 581v1M534 581.5h5M539 580.5h9M548 579.5h5M552 579.5h2M554 580.5h3M557 581.5h3M560 582.5h4M564 583.5h3M567 584.5h3M570 585.5h2M571 585.5h5M576 584.5h9M585 583.5h4"/>
<path class="a" d="M488.5 557.5V608.5H597.5V557.5M488.5 557.5h1.5M597.5 557.5h-3.5M488.5 567.7h1.5M597.5 567.7h-3.5M488.5 577.9h1.5M597.5 577.9h-3.5M488.5 588.1h1.5M597.5 588.1h-3.5M488.5 598.3h1.5M597.5 598.3h-3.5M488.5 608.5h1.5M597.5 608.5h-3.5"/>
<text class="l" x="480.5" y="559">100</text><text class="r" x="604" y="559">10</text>
<text class="l" x="480.5" y="569.95">80</text><text class="r" x="604" y="569.95">8</text>
<text class="l" x="480.5" y="580.15">60</text><text class="r" x="604" y="580.15">6</text>
<text class="l" x="480.5" y="590.35">40</text><text class="r" x="604" y="590.35">4</text>
<text class="l" x="480.5" y="600.55">20</text><text class="r" x="604" y="600.55">2</text>
<text class="l" x="480.5" y="610.75">0</text><text class="r" x="604" y="610.75">0</text>
<text class="x" x="497.55" y="623">6</text><text class="x" x="515.35" y="623">9</text><text class="x" x="533.85" y="623">12</text><text class="x" x="551.55" y="623">15</text><text class="x" x="569.85" y="623">18</text><text class="x" x="586.95" y="623">21</text>
</g>
<g>
<text class="t" x="80.8" y="649.3">VA2MGL (90%)</text>
<rect class="b" x="47.5" y="690.84" width="12" height="6.67"/>
<rect class="b" x="65.5" y="657.5" width="12" height="40"/>
<rect class="b" x="83.5" y="655.84" width="12" height="41.66"/>
<rect class="b" x="101.5" y="657.5" width="13" height="40"/>
<path class="a" d="M35.5 697v1M36.5 696v1M37.5 694v2M38.5 693v1M39.5 692v1M40.5 690v2M41.5 689v1M42.5 688v1M43.5 686v2M44.5 685v1M45.5 684v1M46.5 682v2M47.5 681v1M48.5 680v1M49.5 678v2M50.5 677v1M51.5 676v1M52.5 674v2M53.5 673v1M53 673.5h2M55 672.5h3M58 671.5h3M61 670.5h3M64 669.5h3M67 668.5h3M70 667.5h2M71 667.5h4M75 668.5h6M81 669.5h6M87 670.5h4M90 670.5h3M93 671.5h6M99 672.5h6M105 673.5h4M108.5 673v1M109.5 674v1M110.5 675v2M111.5 677v1M112.5 678v1M113.5 679v2M114.5 681v1M115.5 682v1M116.5 683v2M117.5 685v1M118.5 686v1M119.5 687v2M120.5 689v1M121.5 690v1M122.5 691v2M123.5 693v1M124.5 694v1M125.5 695v2"/>
<path class="a" d="M26.5 647.5V697.5H135.5V647.5M26.5 647.5h1.5M135.5 647.5h-3.5M26.5 657.5h1.5M135.5 657.5h-3.5M26.5 667.5h1.5M135.5 667.5h-3.5M26.5 677.5h1.5M135.5 677.5h-3.5M26.5 687.5h1.5M135.5 687.5h-3.5M26.5 697.5h1.5M135.5 697.5h-3.5"/>
<text class="l" x="18.5" y="649">100</text><text class="r" x="141" y="649">10</text>
<text class="l" x="18.5" y="659.75">80</text><text class="r" x="141" y="659.75">8</text>
<text class="l" x="18.5" y="669.75">60</text><text class="r" x="141" y="669.75">6</text>
<text class="l" x="18.5" y="679.75">40</text><text class="r" x="141" y="679.75">4</text>
<text class="l" x="18.5" y="689.75">20</text><text class="r" x="141" y="689.75">2</text>
<text class="l" x="18.5" y="699.75">0</text><text class="r" x="141" y="699.75">0</text>
<text class="x" x="35.14" y="712">6</text><text class="x" x="52.91" y="712">9</text><text class="x" x="71.38" y="712">12</text><text class="x" x="89.05" y="712">15</text><text class="x" x="107.31" y="712">18</text><text class="x" x="124.38" y="712">21</text>
</g>
<g>
<text class="t" x="234.8" y="649.3">VA3GRR (53%)</text>
<rect class="b" x="219.5" y="685.84" width="12" height="11.66"/>
<rect class="b" x="237.5" y="679.85" width="12" height="17.65"/>
<rect class="b" x="255.5" y="694.16" width="13" height="3.33"/>
<rect class="b" x="274.5" y="691.6" width="12" height="5.9"/>
<path class="a" d="M207 697.5h1M208 696.5h1M209 695.5h1M210 694.5h1M211 693.5h1M212 692.5h1M213 691.5h1M214 690.5h1M215 689.5h1M216 688.5h2M218 687.5h1M219 686.5h1M220 685.5h1M221 684.5h1M222 683.5h1M223 682.5h1M224 681.5h1M225 680.5h1M225 680.5h5M230 681.5h10M240 682.5h5M244 682.5h3M247 683.5h4M251 684.5h5M256 685.5h4M260 686.5h3M262 686.5h9M271 687.5h9"/>
<path class="a" d="M180.5 647.5V697.5H289.5V647.5M180.5 647.5h1.5M289.5 647.5h-3.5M180.5 657.5h1.5M289.5 657.5h-3.5M180.5 667.5h1.5M289.5 667.5h-3.5M180.5 677.5h1.5M289.5 677.5h-3.5M180.5 687.5h1.5M289.5 687.5h-3.5M180.5 697.5h1.5M289.5 697.5h-3.5"/>
<text class="l" x="172.5" y="649">100</text><text class="r" x="295" y="649">10</text>
<text class="l" x="172.5" y="659.75">80</text><text class="r" x="295" y="659.75">8</text>
<text class="l" x="172.5" y="669.75">60</text><text class="r" x="295" y="669.75">6</text>
<text class="l" x="172.5" y="679.75">40</text><text class="r" x="295" y="679.75">4</text>
<text class="l" x="172.5" y="689.75">20</text><text class="r" x="295" y="689.75">2</text>
<text class="l" x="172.5" y="699.75">0</text><text class="r" x="295" y="699.75">0</text>
<text class="x" x="189.13" y="712">6</text><text class="x" x="206.91" y="712">9</text><text class="x" x="225.38" y="712">12</text><text class="x" x="243.05" y="712">15</text><text class="x" x="261.31" y="712">18</text><text class="x" x="278.39" y="712">21</text>
</g>
<g>
<text class="t" x="388.8" y="649.3">VA3ODX (76%)</text>
<rect class="b" x="373.5" y="677.5" width="12" height="20"/>
<rect class="b" x="391.5" y="663.25" width="12" height="34.25"/>
<rect class="b" x="409.5" y="692.5" width="13" height="5"/>
<rect class="b" x="428.5" y="691.6" width="12" height="5.9"/>
<path class="a" d="M361 697.5h1M362 696.5h1M363 695.5h1M364 694.5h1M365 693.5h1M366 692.5h1M367 691.5h1M368 690.5h1M369 689.5h1M370 688.5h1M371 687.5h1M372 686.5h1M373 685.5h1M374 684.5h1M375 683.5h1M376 682.5h1M377 681.5h1M378 680.5h1M379 679.5h1M379 679.5h10M389 678.5h10M398 678.5h2M400 679.5h3M403 680.5h3M406 681.5h3M409 682.5h3M412 683.5h3M415 684.5h2M416 684.5h3M419 685.5h6M425 686.5h6M431 687.5h3"/>
<path class="a" d="M334.5 647.5V697.5H443.5V647.5M334.5 647.5h1.5M443.5 647.5h-3.5M334.5 657.5h1.5M443.5 657.5h-3.5M334.5 667.5h1.5M443.5 667.5h-3.5M334.5 677.5h1.5M443.5 677.5h-3.5M334.5 687.5h1.5M443.5 687.5h-3.5M334.5 697.5h1.5M443.5 697.5h-3.5"/>
<text class="l" x="326.5" y="649">100</text><text class="r" x="449" y="649">10</text>
<text class="l" x="326.5" y="659.75">80</text><text class="r" x="449" y="659.75">8</text>
<text class="l" x="326.5" y="669.75">60</text><text class="r" x="449" y="669.75">6</text>
<text class="l" x="326.5" y="679.75">40</text><text class="r" x="449" y="679.75">4</text>
<text class="l" x="326.5" y="689.75">20</text><text class="r" x="449" y="689.75">2</text>
<text class="l" x="326.5" y="699.75">0</text><text class="r" x="449" y="699.75">0</text>
<text class="x" x="343.13" y="712">6</text><text class="x" x="360.91" y="712">9</text><text class="x" x="379.38" y="712">12</text><text class="x" x="397.05" y="712">15</text><text class="x" x="415.31" y="712">18</text><text class="x" x="432.39" y="712">21</text>
</g>
<g>
<text class="t" x="542.8" y="649.3">VA3SBB (53%)</text>
<rect class="b" x="527.5" y="690.84" width="12" height="6.67"/>
<rect class="b" x="545.5" y="675.84" width="12" height="21.66"/>
<rect class="b" x="563.5" y="685.84" width="13" height="11.66"/>
<path class="a" d="M515.5 697v1M516.5 696v1M517.5 694v2M518.5 693v1M519.5 692v1M520.5 690v2M521.5 689v1M522.5 688v1M523.5 687v1M524.5 685v2M525.5 684v1M526.5 683v1M527.5 682v1M528.5 680v2M529.5 679v1M530.5 678v1M531.5 676v2M532.5 675v1M533.5 674v1M533 674.5h4M537 675.5h6M543 676.5h6M549 677.5h4M552 677.5h3M555 678.5h6M561 679.5h6M567 680.5h4M570 680.5h1M571 681.5h1M572 682.5h1M573 683.5h1M574 684.5h1M575 685.5h1M576 686.5h1M577 687.5h1M578 688.5h1M579 689.5h2M581 690.5h1M582 691.5h1M583 692.5h1M584 693.5h1M585 694.5h1M586 695.5h1M587 696.5h1"/>
<path class="a" d="M488.5 647.5V697.5H597.5V647.5M488.5 647.5h1.5M597.5 647.5h-3.5M488.5 657.5h1.5M597.5 657.5h-3.5M488.5 667.5h1.5M597.5 667.5h-3.5M488.5 677.5h1.5M597.5 677.5h-3.5M488.5 687.5h1.5M597.5 687.5h-3.5M488.5 697.5h1.5M597.5 697.5h-3.5"/>
<text class="l" x="480.5" y="649">100</text><text class="r" x="603" y="649">10</text>
<text class="l" x="480.5" y="659.75">80</text><text class="r" x="603" y="659.75">8</text>
<text class="l" x="480.5" y="669.75">60</text><text class="r" x="603" y="669.75">6</text>
<text class="l" x="480.5" y="679.75">40</text><text class="r" x="603" y="679.75">4</text>
<text class="l" x="480.5" y="689.75">20</text><text class="r" x="603" y="689.75">2</text>
<text class="l" x="480.5" y="699.75">0</text><text class="r" x="603" y="699.75">0</text>
<text class="x" x="497.13" y="712">6</text><text class="x" x="514.91" y="712">9</text><text class="x" x="533.38" y="712">12</text><text class="x" x="551.04" y="712">15</text><text class="x" x="569.31" y="712">18</text><text class="x" x="586.38" y="712">21</text>
</g>
<g>
<text class="t" x="80.8" y="739.3">VE1CBZ (40%)</text>
<rect class="b" x="65.5" y="783.16" width="12" height="4.33"/>
<rect class="b" x="83.5" y="773.9" width="12" height="13.6"/>
<rect class="b" x="101.5" y="772.2" width="13" height="15.3"/>
<path class="a" d="M53 787.5h1M54 786.5h1M55 785.5h1M56 784.5h2M58 783.5h1M59 782.5h1M60 781.5h1M61 780.5h1M62 779.5h2M64 778.5h1M65 777.5h1M66 776.5h1M67 775.5h1M68 774.5h2M70 773.5h1M71 772.5h1M71 772.5h2M73 771.5h4M77 770.5h4M81 769.5h4M85 768.5h4M89 767.5h2M90 767.5h2M92 768.5h3M95 769.5h3M98 770.5h3M101 771.5h3M104 772.5h3M107 773.5h2M108 773.5h1M109 774.5h1M110 775.5h2M112 776.5h1M113 777.5h1M114 778.5h2M116 779.5h1M117 780.5h1M118 781.5h1M119 782.5h2M121 783.5h1M122 784.5h1M123 785.5h2M125 786.5h1"/>
<path class="a" d="M26.5 736.5V787.5H135.5V736.5M26.5 736.5h1.5M135.5 736.5h-3.5M26.5 746.7h1.5M135.5 746.7h-3.5M26.5 756.9h1.5M135.5 756.9h-3.5M26.5 767.1h1.5M135.5 767.1h-3.5M26.5 777.3h1.5M135.5 777.3h-3.5M26.5 787.5h1.5M135.5 787.5h-3.5"/>
<text class="l" x="18.5" y="738">100</text><text class="r" x="141" y="738">10</text>
<text class="l" x="18.5" y="748.95">80</text><text class="r" x="141" y="748.95">8</text>
<text class="l" x="18.5" y="759.15">60</text><text class="r" x="141" y="759.15">6</text>
<text class="l" x="18.5" y="769.35">40</text><text class="r" x="141" y="769.35">4</text>
<text class="l" x="18.5" y="779.55">20</text><text class="r" x="141" y="779.55">2</text>
<text class="l" x="18.5" y="789.75">0</text><text class="r" x="141" y="789.75">0</text>
<text class="x" x="35.14" y="802">6</text><text class="x" x="52.91" y="802">9</text><text class="x" x="71.38" y="802">12</text><text class="x" x="89.05" y="802">15</text><text class="x" x="107.31" y="802">18</text><text class="x" x="124.38" y="802">21</text>
</g>
<g>
<text class="t" x="234.8" y="739.3">VE3GOP (3%)</text>
<rect class="b" x="237.5" y="785.8" width="12" height="1.7"/>
<path class="a" d="M225 787.5h1M226 786.5h2M228 785.5h2M230 784.5h2M232 783.5h2M234 782.5h2M236 781.5h2M238 780.5h2M240 779.5h2M242 778.5h2M244 777.5h1M244 777.5h1M245 778.5h2M247 779.5h2M249 780.5h2M251 781.5h2M253 782.5h1M254 783.5h2M256 784.5h2M258 785.5h2M260 786.5h2M262 787.5h1"/>
<path class="a" d="M180.5 736.5V787.5H289.5V736.5M180.5 736.5h1.5M289.5 736.5h-3.5M180.5 746.7h1.5M289.5 746.7h-3.5M180.5 756.9h1.5M289.5 756.9h-3.5M180.5 767.1h1.5M289.5 767.1h-3.5M180.5 777.3h1.5M289.5 777.3h-3.5M180.5 787.5h1.5M289.5 787.5h-3.5"/>
<text class="l" x="172.5" y="738">100</text><text class="r" x="295" y="738">10</text>
<text class="l" x="172.5" y="748.95">80</text><text class="r" x="295" y="748.95">8</text>
<text class="l" x="172.5" y="759.15">60</text><text class="r" x="295" y="759.15">6</text>
<text class="l" x="172.5" y="769.35">40</text><text class="r" x="295" y="769.35">4</text>
<text class="l" x="172.5" y="779.55">20</text><text class="r" x="295" y="779.55">2</text>
<text class="l" x="172.5" y="789.75">0</text><text class="r" x="295" y="789.75">0</text>
<text class="x" x="189.13" y="802">6</text><text class="x" x="206.91" y="802">9</text><text class="x" x="225.38" y="802">12</text><text class="x" x="243.05" y="802">15</text><text class="x" x="261.31" y="802">18</text><text class="x" x="278.39" y="802">21</text>
</g>
<g>
<text class="t" x="388.8" y="739.3">VE3LZ (83%)</text>
<rect class="b" x="373.5" y="758.6" width="12" height="28.9"/>
<rect class="b" x="391.5" y="753.5" width="12" height="34"/>
<rect class="b" x="409.5" y="770.5" width="13" height="17"/>
<rect class="b" x="428.5" y="781.74" width="12" height="5.76"/>
<path class="a" d="M361.5 787v1M362.5 786v1M363.5 784v2M364.5 783v1M365.5 782v1M366.5 781v1M367.5 780v1M368.5 778v2M369.5 777v1M370.5 776v1M371.5 775v1M372.5 773v2M373.5 772v1M374.5 771v1M375.5 770v1M376.5 769v1M377.5 767v2M378.5 766v1M379.5 765v1M379 765.5h10M389 764.5h10M398 764.5h2M400 765.5h2M402 766.5h2M404 767.5h2M406 768.5h3M409 769.5h2M411 770.5h2M413 771.5h2M415 772.5h2M416 772.5h1M417 771.5h2M419 770.5h2M421 769.5h2M423 768.5h2M425 767.5h1M426 766.5h2M428 765.5h2M430 764.5h2M432 763.5h2"/>
<path class="a" d="M334.5 736.5V787.5H443.5V736.5M334.5 736.5h1.5M443.5 736.5h-3.5M334.5 746.7h1.5M443.5 746.7h-3.5M334.5 756.9h1.5M443.5 756.9h-3.5M334.5 767.1h1.5M443.5 767.1h-3.5M334.5 777.3h1.5M443.5 777.3h-3.5M334.5 787.5h1.5M443.5 787.5h-3.5"/>
<text class="l" x="326.5" y="738">100</text><text class="r" x="449" y="738">10</text>
<text class="l" x="326.5" y="748.95">80</text><text class="r" x="449" y="748.95">8</text>
<text class="l" x="326.5" y="759.15">60</text><text class="r" x="449" y="759.15">6</text>
<text class="l" x="326.5" y="769.35">40</text><text class="r" x="449" y="769.35">4</text>
<text class="l" x="326.5" y="779.55">20</text><text class="r" x="449" y="779.55">2</text>
<text class="l" x="326.5" y="789.75">0</text><text class="r" x="449" y="789.75">0</text>
<text class="x" x="343.13" y="802">6</text><text class="x" x="360.91" y="802">9</text><text class="x" x="379.38" y="802">12</text><text class="x" x="397.05" y="802">15</text><text class="x" x="415.31" y="802">18</text><text class="x" x="432.39" y="802">21</text>
</g>
<g>
<text class="t" x="542.8" y="739.3">VE3TEN (96%)</text>
<rect class="b" x="509.5" y="785.8" width="12" height="1.7"/>
<rect class="b" x="527.5" y="746.7" width="12" height="40.8"/>
<rect class="b" x="545.5" y="738.2" width="12" height="49.3"/>
<rect class="b" x="563.5" y="743.3" width="13" height="44.2"/>
<rect class="b" x="582.5" y="781.63" width="12" height="5.87"/>
<path class="a" d="M497.5 787v1M498.5 785v2M499.5 783v2M500.5 781v2M501.5 780v1M502.5 778v2M503.5 776v2M504.5 775v1M505.5 773v2M506.5 771v2M507.5 769v2M508.5 768v1M509.5 766v2M510.5 764v2M511.5 763v1M512.5 761v2M513.5 759v2M514.5 757v2M515.5 756v1M515 756.5h2M517 755.5h3M520 754.5h3M523 753.5h3M526 752.5h3M529 751.5h3M532 750.5h2M533 750.5h2M535 751.5h4M539 752.5h4M543 753.5h4M547 754.5h4M551 755.5h2M552 755.5h19M570 755.5h2M572 756.5h3M575 757.5h3M578 758.5h3M581 759.5h3M584 760.5h3M587 761.5h1"/>
<path class="a" d="M488.5 736.5V787.5H597.5V736.5M488.5 736.5h1.5M597.5 736.5h-3.5M488.5 746.7h1.5M597.5 746.7h-3.5M488.5 756.9h1.5M597.5 756.9h-3.5M488.5 767.1h1.5M597.5 767.1h-3.5M488.5 777.3h1.5M597.5 777.3h-3.5M488.5 787.5h1.5M597.5 787.5h-3.5"/>
<text class="l" x="480.5" y="738">100</text><text class="r" x="603" y="738">10</text>
<text class="l" x="480.5" y="748.95">80</text><text class="r" x="603" y="748.95">8</text>
<text class="l" x="480.5" y="759.15">60</text><text class="r" x="603" y="759.15">6</text>
<text class="l" x="480.5" y="769.35">40</text><text class="r" x="603" y="769.35">4</text>
<text class="l" x="480.5" y="779.55">20</text><text class="r" x="603" y="779.55">2</text>
<text class="l" x="480.5" y="789.75">0</text><text class="r" x="603" y="789.75">0</text>
<text class="x" x="497.13" y="802">6</text><text class="x" x="514.91" y="802">9</text><text class="x" x="533.38" y="802">12</text><text class="x" x="551.04" y="802">15</text><text class="x" x="569.31" y="802">18</text><text class="x" x="586.38" y="802">21</text>
</g>
<g>
<text class="t" x="80.8" y="828.3">VE4ARM (70%)</text>
<rect class="b" x="65.5" y="859.84" width="12" height="16.66"/>
<rect class="b" x="83.5" y="854.84" width="12" height="21.66"/>
<rect class="b" x="101.5" y="853" width="13" height="23.5"/>
<path class="a" d="M53.5 876v1M54.5 874v2M55.5 873v1M56.5 872v1M57.5 870v2M58.5 869v1M59.5 867v2M60.5 866v1M61.5 865v1M62.5 863v2M63.5 862v1M64.5 861v1M65.5 859v2M66.5 858v1M67.5 856v2M68.5 855v1M69.5 854v1M70.5 852v2M71.5 851v1M71 851.5h5M76 852.5h10M86 853.5h5M90 853.5h1M91 854.5h2M93 855.5h2M95 856.5h1M96 857.5h2M98 858.5h1M99 859.5h2M101 860.5h2M103 861.5h1M104 862.5h2M106 863.5h2M108 864.5h1M108 864.5h1M109 865.5h2M111 866.5h1M112 867.5h2M114 868.5h1M115 869.5h2M117 870.5h1M118 871.5h2M120 872.5h1M121 873.5h2M123 874.5h1M124 875.5h2"/>
<path class="a" d="M26.5 826.5V876.5H135.5V826.5M26.5 826.5h1.5M135.5 826.5h-3.5M26.5 836.5h1.5M135.5 836.5h-3.5M26.5 846.5h1.5M135.5 846.5h-3.5M26.5 856.5h1.5M135.5 856.5h-3.5M26.5 866.5h1.5M135.5 866.5h-3.5M26.5 876.5h1.5M135.5 876.5h-3.5"/>
<text class="l" x="18.5" y="828">100</text><text class="r" x="141" y="828">10</text>
<text class="l" x="18.5" y="838.75">80</text><text class="r" x="141" y="838.75">8</text>
<text class="l" x="18.5" y="848.75">60</text><text class="r" x="141" y="848.75">6</text>
<text class="l" x="18.5" y="858.75">40</text><text class="r" x="141" y="858.75">4</text>
<text class="l" x="18.5" y="868.75">20</text><text class="r" x="141" y="868.75">2</text>
<text class="l" x="18.5" y="878.75">0</text><text class="r" x="141" y="878.75">0</text>
<text class="x" x="35.14" y="891">6</text><text class="x" x="52.91" y="891">9</text><text class="x" x="71.38" y="891">12</text><text class="x" x="89.05" y="891">15</text><text class="x" x="107.31" y="891">18</text><text class="x" x="124.38" y="891">21</text>
</g>
<g>
<text class="t" x="234.8" y="828.3">VE7MTY (56%)</text>
<rect class="b" x="219.5" y="874.84" width="12" height="1.67"/>
<rect class="b" x="237.5" y="856.5" width="12" height="20"/>
<rect class="b" x="255.5" y="856.5" width="13" height="20"/>
<path class="a" d="M207.5 876v1M208.5 874v2M209.5 873v1M210.5 872v1M211.5 870v2M212.5 869v1M213.5 867v2M214.5 866v1M215.5 865v1M216.5 863v2M217.5 862v1M218.5 861v1M219.5 859v2M220.5 858v1M221.5 856v2M222.5 855v1M223.5 854v1M224.5 852v2M225.5 851v1M225 851.5h2M227 852.5h2M229 853.5h2M231 854.5h3M234 855.5h2M236 856.5h3M239 857.5h2M241 858.5h2M243 859.5h2M244 859.5h2M246 860.5h4M250 861.5h3M253 862.5h4M257 863.5h4M261 864.5h2M262 864.5h1M263 865.5h2M265 866.5h1M266 867.5h2M268 868.5h1M269 869.5h2M271 870.5h1M272 871.5h2M274 872.5h1M275 873.5h2M277 874.5h1M278 875.5h2"/>
<path class="a" d="M180.5 826.5V876.5H289.5V826.5M180.5 826.5h1.5M289.5 826.5h-3.5M180.5 836.5h1.5M289.5 836.5h-3.5M180.5 846.5h1.5M289.5 846.5h-3.5M180.5 856.5h1.5M289.5 856.5h-3.5M180.5 866.5h1.5M289.5 866.5h-3.5M180.5 876.5h1.5M289.5 876.5h-3.5"/>
<text class="l" x="172.5" y="828">100</text><text class="r" x="295" y="828">10</text>
<text class="l" x="172.5" y="838.75">80</text><text class="r" x="295" y="838.75">8</text>
<text class="l" x="172.5" y="848.75">60</text><text class="r" x="295" y="848.75">6</text>
<text class="l" x="172.5" y="858.75">40</text><text class="r" x="295" y="858.75">4</text>
<text class="l" x="172.5" y="868.75">20</text><text class="r" x="295" y="868.75">2</text>
<text class="l" x="172.5" y="878.75">0</text><text class="r" x="295" y="878.75">0</text>
<text class="x" x="189.13" y="891">6</text><text class="x" x="206.91" y="891">9</text><text class="x" x="225.38" y="891">12</text><text class="x" x="243.05" y="891">15</text><text class="x" x="261.31" y="891">18</text><text class="x" x="278.39" y="891">21</text>
</g>
<g>
<text class="t" x="389.6" y="828">VE8AT (56%)</text>
<rect class="b" x="355.5" y="872.01" width="12" height="6.49"/>
<rect class="b" x="374.5" y="858.33" width="12" height="20.17"/>
<rect class="b" x="392.5" y="852.83" width="13" height="25.67"/>
<rect class="b" x="411.5" y="865.67" width="12" height="12.83"/>
<path class="a" d="M343.5 878v1M344.5 876v2M345.5 875v1M346.5 873v2M347.5 872v1M348.5 870v2M349.5 869v1M350.5 867v2M351.5 866v1M352.5 864v2M353.5 862v2M354.5 861v1M355.5 859v2M356.5 858v1M357.5 856v2M358.5 855v1M359.5 853v2M360.5 852v1M361.5 850v2M362.5 849v1M362 849.5h1M363 850.5h2M365 851.5h1M366 852.5h1M367 853.5h2M369 854.5h1M370 855.5h1M371 856.5h2M373 857.5h1M374 858.5h2M376 859.5h1M377 860.5h1M378 861.5h2M380 862.5h1M380 862.5h2M382 861.5h3M385 860.5h2M387 859.5h3M390 858.5h3M393 857.5h2M395 856.5h3M398 855.5h2M399 855.5h5M404 856.5h10M414 857.5h5M418.5 857v1M419.5 858v1M420.5 859v1M421.5 860v2M422.5 862v1M423.5 863v1M424.5 864v1M425.5 865v1M426.5 866v1M427.5 867v2M428.5 869v1M429.5 870v1M430.5 871v1M431.5 872v1M432.5 873v1M433.5 874v2M434.5 876v1M435.5 877v1"/>
<path class="a" d="M334.5 823.5V878.5H445.5V823.5M334.5 823.5h1.5M445.5 823.5h-3.5M334.5 834.5h1.5M445.5 834.5h-3.5M334.5 845.5h1.5M445.5 845.5h-3.5M334.5 856.5h1.5M445.5 856.5h-3.5M334.5 867.5h1.5M445.5 867.5h-3.5M334.5 878.5h1.5M445.5 878.5h-3.5"/>
<text class="l" x="326.5" y="825">100</text><text class="r" x="451" y="825">10</text>
<text class="l" x="326.5" y="836.75">80</text><text class="r" x="451" y="836.75">8</text>
<text class="l" x="326.5" y="847.75">60</text><text class="r" x="451" y="847.75">6</text>
<text class="l" x="326.5" y="858.75">40</text><text class="r" x="451" y="858.75">4</text>
<text class="l" x="326.5" y="869.75">20</text><text class="r" x="451" y="869.75">2</text>
<text class="l" x="326.5" y="880.75">0</text><text class="r" x="451" y="880.75">0</text>
<text class="x" x="343.3" y="893">6</text><text class="x" x="361.41" y="893">9</text><text class="x" x="380.21" y="893">12</text><text class="x" x="398.21" y="893">15</text><text class="x" x="416.81" y="893">18</text><text class="x" x="434.22" y="893">21</text>
</g>
<g>
<text class="t" x="542.8" y="828.3">VE9BEA (90%)</text>
<rect class="b" x="490.5" y="874.84" width="12" height="1.67"/>
<rect class="b" x="509.5" y="873.16" width="12" height="3.33"/>
<rect class="b" x="527.5" y="842.25" width="12" height="34.25"/>
<rect class="b" x="545.5" y="832.25" width="12" height="44.25"/>
<rect class="b" x="563.5" y="839.84" width="13" height="36.66"/>
<path class="a" d="M497 846.5h19M515 846.5h2M517 847.5h4M521 848.5h3M524 849.5h4M528 850.5h4M532 851.5h2M533 851.5h10M543 852.5h10M552 852.5h2M554 853.5h4M558 854.5h3M561 855.5h4M565 856.5h4M569 857.5h2M570.5 857v1M571.5 858v1M572.5 859v1M573.5 860v1M574.5 861v1M575.5 862v1M576.5 863v1M577.5 864v1M578.5 865v1M579.5 866v2M580.5 868v1M581.5 869v1M582.5 870v1M583.5 871v1M584.5 872v1M585.5 873v1M586.5 874v1M587.5 875v1"/>
<path class="a" d="M488.5 826.5V876.5H597.5V826.5M488.5 826.5h1.5M597.5 826.5h-3.5M488.5 836.5h1.5M597.5 836.5h-3.5M488.5 846.5h1.5M597.5 846.5h-3.5M488.5 856.5h1.5M597.5 856.5h-3.5M488.5 866.5h1.5M597.5 866.5h-3.5M488.5 876.5h1.5M597.5 876.5h-3.5"/>
<text class="l" x="480.5" y="828">100</text><text class="r" x="603" y="828">10</text>
<text class="l" x="480.5" y="838.75">80</text><text class="r" x="603" y="838.75">8</text>
<text class="l" x="480.5" y="848.75">60</text><text class="r" x="603" y="848.75">6</text>
<text class="l" x="480.5" y="858.75">40</text><text class="r" x="603" y="858.75">4</text>
<text class="l" x="480.5" y="868.75">20</text><text class="r" x="603" y="868.75">2</text>
<text class="l" x="480.5" y="878.75">0</text><text class="r" x="603" y="878.75">0</text>
<text class="x" x="497.13" y="891">6</text><text class="x" x="514.91" y="891">9</text><text class="x" x="533.38" y="891">12</text><text class="x" x="551.04" y="891">15</text><text class="x" x="569.31" y="891">18</text><text class="x" x="586.38" y="891">21</text>
</g>
<g>
<text class="t" x="80.8" y="919">W0ERE (23%)</text>
<rect class="b" x="65.5" y="963.16" width="12" height="3.33"/>
<rect class="b" x="83.5" y="958.16" width="12" height="8.34"/>
<rect class="b" x="101.5" y="958.16" width="12" height="8.34"/>
<path class="a" d="M53 966.5h1M54 965.5h2M56 964.5h2M58 963.5h2M60 962.5h2M62 961.5h1M63 960.5h2M65 959.5h2M67 958.5h2M69 957.5h2M71 956.5h1M71 956.5h2M73 955.5h2M75 954.5h2M77 953.5h2M79 952.5h3M82 951.5h2M84 950.5h2M86 949.5h2M88 948.5h2M89 948.5h2M91 949.5h3M94 950.5h3M97 951.5h3M100 952.5h3M103 953.5h3M106 954.5h2M107 954.5h1M108 955.5h2M110 956.5h1M111 957.5h2M113 958.5h1M114 959.5h2M116 960.5h1M117 961.5h2M119 962.5h1M120 963.5h2M122 964.5h1M123 965.5h2"/>
<path class="a" d="M26.5 916.5V966.5H134.5V916.5M26.5 916.5h1.5M134.5 916.5h-3.5M26.5 926.5h1.5M134.5 926.5h-3.5M26.5 936.5h1.5M134.5 936.5h-3.5M26.5 946.5h1.5M134.5 946.5h-3.5M26.5 956.5h1.5M134.5 956.5h-3.5M26.5 966.5h1.5M134.5 966.5h-3.5"/>
<text class="l" x="18.5" y="918">100</text><text class="r" x="140" y="918">10</text>
<text class="l" x="18.5" y="928.75">80</text><text class="r" x="140" y="928.75">8</text>
<text class="l" x="18.5" y="938.75">60</text><text class="r" x="140" y="938.75">6</text>
<text class="l" x="18.5" y="948.75">40</text><text class="r" x="140" y="948.75">4</text>
<text class="l" x="18.5" y="958.75">20</text><text class="r" x="140" y="958.75">2</text>
<text class="l" x="18.5" y="968.75">0</text><text class="r" x="140" y="968.75">0</text>
<text class="x" x="35.3" y="981">6</text><text class="x" x="52.8" y="981">9</text><text class="x" x="71" y="981">12</text><text class="x" x="88.4" y="981">15</text><text class="x" x="106.4" y="981">18</text><text class="x" x="123.2" y="981">21</text>
</g>
<g>
<text class="t" x="234.8" y="919">W2IK (3%)</text>
<rect class="b" x="219.5" y="964.84" width="12" height="1.67"/>
<path class="a" d="M207 966.5h1M208 965.5h1M209 964.5h1M210 963.5h2M212 962.5h1M213 961.5h1M214 960.5h1M215 959.5h1M216 958.5h2M218 957.5h1M219 956.5h1M220 955.5h1M221 954.5h1M222 953.5h2M224 952.5h1M225 951.5h1M225 951.5h1M226 952.5h1M227 953.5h1M228 954.5h2M230 955.5h1M231 956.5h1M232 957.5h1M233 958.5h1M234 959.5h2M236 960.5h1M237 961.5h1M238 962.5h1M239 963.5h1M240 964.5h2M242 965.5h1M243 966.5h1"/>
<path class="a" d="M180.5 916.5V966.5H288.5V916.5M180.5 916.5h1.5M288.5 916.5h-3.5M180.5 926.5h1.5M288.5 926.5h-3.5M180.5 936.5h1.5M288.5 936.5h-3.5M180.5 946.5h1.5M288.5 946.5h-3.5M180.5 956.5h1.5M288.5 956.5h-3.5M180.5 966.5h1.5M288.5 966.5h-3.5"/>
<text class="l" x="172.5" y="918">100</text><text class="r" x="294" y="918">10</text>
<text class="l" x="172.5" y="928.75">80</text><text class="r" x="294" y="928.75">8</text>
<text class="l" x="172.5" y="938.75">60</text><text class="r" x="294" y="938.75">6</text>
<text class="l" x="172.5" y="948.75">40</text><text class="r" x="294" y="948.75">4</text>
<text class="l" x="172.5" y="958.75">20</text><text class="r" x="294" y="958.75">2</text>
<text class="l" x="172.5" y="968.75">0</text><text class="r" x="294" y="968.75">0</text>
<text class="x" x="189.3" y="981">6</text><text class="x" x="206.8" y="981">9</text><text class="x" x="225" y="981">12</text><text class="x" x="242.4" y="981">15</text><text class="x" x="260.4" y="981">18</text><text class="x" x="277.2" y="981">21</text>
</g>
<g>
<text class="t" x="388.8" y="919">W3HH (90%)</text>
<rect class="b" x="373.5" y="936.5" width="12" height="30"/>
<rect class="b" x="391.5" y="926.5" width="12" height="40"/>
<rect class="b" x="409.5" y="923.16" width="12" height="43.34"/>
<rect class="b" x="427.5" y="960.5" width="12" height="6"/>
<path class="a" d="M361.5 966v1M362.5 965v1M363.5 963v2M364.5 962v1M365.5 961v1M366.5 959v2M367.5 958v1M368.5 957v1M369.5 956v1M370.5 954v2M371.5 953v1M372.5 952v1M373.5 951v1M374.5 949v2M375.5 948v1M376.5 947v1M377.5 945v2M378.5 944v1M379.5 943v1M379 943.5h5M384 942.5h9M393 941.5h5M397 941.5h1M398 942.5h2M400 943.5h2M402 944.5h2M404 945.5h2M406 946.5h2M408 947.5h2M410 948.5h2M412 949.5h2M414 950.5h2M415 950.5h1M416 951.5h2M418 952.5h2M420 953.5h2M422 954.5h2M424 955.5h1M425 956.5h2M427 957.5h2M429 958.5h2M431 959.5h2"/>
<path class="a" d="M334.5 916.5V966.5H442.5V916.5M334.5 916.5h1.5M442.5 916.5h-3.5M334.5 926.5h1.5M442.5 926.5h-3.5M334.5 936.5h1.5M442.5 936.5h-3.5M334.5 946.5h1.5M442.5 946.5h-3.5M334.5 956.5h1.5M442.5 956.5h-3.5M334.5 966.5h1.5M442.5 966.5h-3.5"/>
<text class="l" x="326.5" y="918">100</text><text class="r" x="448" y="918">10</text>
<text class="l" x="326.5" y="928.75">80</text><text class="r" x="448" y="928.75">8</text>
<text class="l" x="326.5" y="938.75">60</text><text class="r" x="448" y="938.75">6</text>
<text class="l" x="326.5" y="948.75">40</text><text class="r" x="448" y="948.75">4</text>
<text class="l" x="326.5" y="958.75">20</text><text class="r" x="448" y="958.75">2</text>
<text class="l" x="326.5" y="968.75">0</text><text class="r" x="448" y="968.75">0</text>
<text class="x" x="343.3" y="981">6</text><text class="x" x="360.8" y="981">9</text><text class="x" x="379" y="981">12</text><text class="x" x="396.4" y="981">15</text><text class="x" x="414.4" y="981">18</text><text class="x" x="431.2" y="981">21</text>
</g>
<g>
<text class="t" x="542.8" y="919">W3VD (90%)</text>
<rect class="b" x="509.5" y="959.84" width="12" height="6.67"/>
<rect class="b" x="527.5" y="931.5" width="12" height="35"/>
<rect class="b" x="545.5" y="923.16" width="12" height="43.34"/>
<rect class="b" x="563.5" y="923.16" width="12" height="43.34"/>
<rect class="b" x="581.5" y="960.5" width="12" height="6"/>
<path class="a" d="M497.5 966v1M498.5 965v1M499.5 964v1M500.5 962v2M501.5 961v1M502.5 960v1M503.5 959v1M504.5 958v1M505.5 957v1M506.5 955v2M507.5 954v1M508.5 953v1M509.5 952v1M510.5 951v1M511.5 950v1M512.5 948v2M513.5 947v1M514.5 946v1M515.5 945v1M515 945.5h2M517 944.5h2M519 943.5h2M521 942.5h2M523 941.5h3M526 940.5h2M528 939.5h2M530 938.5h2M532 937.5h2M533 937.5h3M536 938.5h6M542 939.5h6M548 940.5h4M551 940.5h2M553 941.5h4M557 942.5h3M560 943.5h4M564 944.5h4M568 945.5h2M569 945.5h3M572 944.5h4M576 943.5h5M581 942.5h4M585 941.5h2"/>
<path class="a" d="M488.5 916.5V966.5H596.5V916.5M488.5 916.5h1.5M596.5 916.5h-3.5M488.5 926.5h1.5M596.5 926.5h-3.5M488.5 936.5h1.5M596.5 936.5h-3.5M488.5 946.5h1.5M596.5 946.5h-3.5M488.5 956.5h1.5M596.5 956.5h-3.5M488.5 966.5h1.5M596.5 966.5h-3.5"/>
<text class="l" x="480.5" y="918">100</text><text class="r" x="602" y="918">10</text>
<text class="l" x="480.5" y="928.75">80</text><text class="r" x="602" y="928.75">8</text>
<text class="l" x="480.5" y="938.75">60</text><text class="r" x="602" y="938.75">6</text>
<text class="l" x="480.5" y="948.75">40</text><text class="r" x="602" y="948.75">4</text>
<text class="l" x="480.5" y="958.75">20</text><text class="r" x="602" y="958.75">2</text>
<text class="l" x="480.5" y="968.75">0</text><text class="r" x="602" y="968.75">0</text>
<text class="x" x="497.3" y="981">6</text><text class="x" x="514.8" y="981">9</text><text class="x" x="533" y="981">12</text><text class="x" x="550.4" y="981">15</text><text class="x" x="568.4" y="981">18</text><text class="x" x="585.2" y="981">21</text>
</g>
<g>
<text class="t" x="80.8" y="1007.3">W4JE (36%)</text>
<rect class="b" x="65.5" y="1046.7" width="12" height="8.8"/>
<rect class="b" x="83.5" y="1047.16" width="12" height="8.34"/>
<rect class="b" x="101.5" y="1054.75" width="12" height="0.75"/>
<path class="a" d="M53.5 1055v1M54.5 1054v1M55.5 1053v1M56.5 1052v1M57.5 1051v1M58.5 1050v1M59.5 1049v1M60.5 1048v1M61.5 1047v1M62.5 1045v2M63.5 1044v1M64.5 1043v1M65.5 1042v1M66.5 1041v1M67.5 1040v1M68.5 1039v1M69.5 1038v1M70.5 1037v1M71.5 1036v1M71 1036.5h5M76 1037.5h9M85 1038.5h5M89 1038.5h5M94 1039.5h9M103 1040.5h5M107 1040.5h1M108 1041.5h1M109 1042.5h1M110 1043.5h2M112 1044.5h1M113 1045.5h1M114 1046.5h1M115 1047.5h1M116 1048.5h2M118 1049.5h1M119 1050.5h1M120 1051.5h1M121 1052.5h1M122 1053.5h2M124 1054.5h1"/>
<path class="a" d="M26.5 1005.5V1055.5H134.5V1005.5M26.5 1005.5h1.5M134.5 1005.5h-3.5M26.5 1015.5h1.5M134.5 1015.5h-3.5M26.5 1025.5h1.5M134.5 1025.5h-3.5M26.5 1035.5h1.5M134.5 1035.5h-3.5M26.5 1045.5h1.5M134.5 1045.5h-3.5M26.5 1055.5h1.5M134.5 1055.5h-3.5"/>
<text class="l" x="18.5" y="1007">100</text><text class="r" x="140" y="1007">10</text>
<text class="l" x="18.5" y="1017.75">80</text><text class="r" x="140" y="1017.75">8</text>
<text class="l" x="18.5" y="1027.75">60</text><text class="r" x="140" y="1027.75">6</text>
<text class="l" x="18.5" y="1037.75">40</text><text class="r" x="140" y="1037.75">4</text>
<text class="l" x="18.5" y="1047.75">20</text><text class="r" x="140" y="1047.75">2</text>
<text class="l" x="18.5" y="1057.75">0</text><text class="r" x="140" y="1057.75">0</text>
<text class="x" x="35.3" y="1070">6</text><text class="x" x="52.8" y="1070">9</text><text class="x" x="71" y="1070">12</text><text class="x" x="88.4" y="1070">15</text><text class="x" x="106.4" y="1070">18</text><text class="x" x="123.2" y="1070">21</text>
</g>
<g>
<text class="t" x="234.8" y="1007.3">W4STT (43%)</text>
<rect class="b" x="219.5" y="1054.75" width="12" height="0.75"/>
<rect class="b" x="237.5" y="1037.16" width="12" height="18.34"/>
<rect class="b" x="255.5" y="1040.5" width="12" height="15"/>
<path class="a" d="M207.5 1055v1M208.5 1054v1M209.5 1053v1M210.5 1052v1M211.5 1051v1M212.5 1050v1M213.5 1049v1M214.5 1048v1M215.5 1047v1M216.5 1045v2M217.5 1044v1M218.5 1043v1M219.5 1042v1M220.5 1041v1M221.5 1040v1M222.5 1039v1M223.5 1038v1M224.5 1037v1M225.5 1036v1M225 1036.5h3M228 1035.5h6M234 1034.5h6M240 1033.5h4M243 1033.5h3M246 1034.5h6M252 1035.5h6M258 1036.5h4M261.5 1036v1M262.5 1037v1M263.5 1038v1M264.5 1039v1M265.5 1040v1M266.5 1041v1M267.5 1042v1M268.5 1043v1M269.5 1044v1M270.5 1045v2M271.5 1047v1M272.5 1048v1M273.5 1049v1M274.5 1050v1M275.5 1051v1M276.5 1052v1M277.5 1053v1M278.5 1054v1"/>
<path class="a" d="M180.5 1005.5V1055.5H288.5V1005.5M180.5 1005.5h1.5M288.5 1005.5h-3.5M180.5 1015.5h1.5M288.5 1015.5h-3.5M180.5 1025.5h1.5M288.5 1025.5h-3.5M180.5 1035.5h1.5M288.5 1035.5h-3.5M180.5 1045.5h1.5M288.5 1045.5h-3.5M180.5 1055.5h1.5M288.5 1055.5h-3.5"/>
<text class="l" x="172.5" y="1007">100</text><text class="r" x="294" y="1007">10</text>
<text class="l" x="172.5" y="1017.75">80</text><text class="r" x="294" y="1017.75">8</text>
<text class="l" x="172.5" y="1027.75">60</text><text class="r" x="294" y="1027.75">6</text>
<text class="l" x="172.5" y="1037.75">40</text><text class="r" x="294" y="1037.75">4</text>
<text class="l" x="172.5" y="1047.75">20</text><text class="r" x="294" y="1047.75">2</text>
<text class="l" x="172.5" y="1057.75">0</text><text class="r" x="294" y="1057.75">0</text>
<text class="x" x="189.3" y="1070">6</text><text class="x" x="206.8" y="1070">9</text><text class="x" x="225" y="1070">12</text><text class="x" x="242.4" y="1070">15</text><text class="x" x="260.4" y="1070">18</text><text class="x" x="277.2" y="1070">21</text>
</g>
<g>
<text class="t" x="388.8" y="1007.3">W4TIY (76%)</text>
<rect class="b" x="373.5" y="1039.65" width="12" height="15.85"/>
<rect class="b" x="391.5" y="1024.6" width="12" height="30.9"/>
<rect class="b" x="409.5" y="1050.5" width="12" height="5"/>
<path class="a" d="M361.5 1055v1M362.5 1054v1M363.5 1052v2M364.5 1051v1M365.5 1050v1M366.5 1048v2M367.5 1047v1M368.5 1046v1M369.5 1045v1M370.5 1043v2M371.5 1042v1M372.5 1041v1M373.5 1040v1M374.5 1038v2M375.5 1037v1M376.5 1036v1M377.5 1034v2M378.5 1033v1M379.5 1032v1M379 1032.5h19M397 1032.5h3M400 1031.5h6M406 1030.5h6M412 1029.5h4M415.5 1029v1M416.5 1030v2M417.5 1032v1M418.5 1033v2M419.5 1035v1M420.5 1036v1M421.5 1037v2M422.5 1039v1M423.5 1040v2M424.5 1042v1M425.5 1043v2M426.5 1045v1M427.5 1046v2M428.5 1048v1M429.5 1049v1M430.5 1050v2M431.5 1052v1M432.5 1053v2"/>
<path class="a" d="M334.5 1005.5V1055.5H442.5V1005.5M334.5 1005.5h1.5M442.5 1005.5h-3.5M334.5 1015.5h1.5M442.5 1015.5h-3.5M334.5 1025.5h1.5M442.5 1025.5h-3.5M334.5 1035.5h1.5M442.5 1035.5h-3.5M334.5 1045.5h1.5M442.5 1045.5h-3.5M334.5 1055.5h1.5M442.5 1055.5h-3.5"/>
<text class="l" x="326.5" y="1007">100</text><text class="r" x="448" y="1007">10</text>
<text class="l" x="326.5" y="1017.75">80</text><text class="r" x="448" y="1017.75">8</text>
<text class="l" x="326.5" y="1027.75">60</text><text class="r" x="448" y="1027.75">6</text>
<text class="l" x="326.5" y="1037.75">40</text><text class="r" x="448" y="1037.75">4</text>
<text class="l" x="326.5" y="1047.75">20</text><text class="r" x="448" y="1047.75">2</text>
<text class="l" x="326.5" y="1057.75">0</text><text class="r" x="448" y="1057.75">0</text>
<text class="x" x="343.3" y="1070">6</text><text class="x" x="360.8" y="1070">9</text><text class="x" x="379" y="1070">12</text><text class="x" x="396.4" y="1070">15</text><text class="x" x="414.4" y="1070">18</text><text class="x" x="431.2" y="1070">21</text>
</g>
<g>
<text class="t" x="542.8" y="1007.3">W5AB (40%)</text>
<rect class="b" x="509.5" y="1054.75" width="12" height="0.75"/>
<rect class="b" x="527.5" y="1052.75" width="12" height="2.75"/>
<rect class="b" x="545.5" y="1040.5" width="12" height="15"/>
<rect class="b" x="563.5" y="1044.7" width="12" height="10.8"/>
<path class="a" d="M497.5 1055v1M498.5 1053v2M499.5 1051v2M500.5 1050v1M501.5 1048v2M502.5 1046v2M503.5 1045v1M504.5 1043v2M505.5 1041v2M506.5 1040v1M507.5 1038v2M508.5 1036v2M509.5 1035v1M510.5 1033v2M511.5 1031v2M512.5 1030v1M513.5 1028v2M514.5 1026v2M515.5 1025v1M515 1025.5h2M517 1026.5h4M521 1027.5h3M524 1028.5h4M528 1029.5h4M532 1030.5h2M533 1030.5h3M536 1029.5h6M542 1028.5h6M548 1027.5h4M551 1027.5h2M553 1028.5h3M556 1029.5h3M559 1030.5h3M562 1031.5h3M565 1032.5h3M568 1033.5h2M569.5 1033v1M570.5 1034v1M571.5 1035v2M572.5 1037v1M573.5 1038v1M574.5 1039v1M575.5 1040v1M576.5 1041v2M577.5 1043v1M578.5 1044v1M579.5 1045v1M580.5 1046v2M581.5 1048v1M582.5 1049v1M583.5 1050v1M584.5 1051v1M585.5 1052v2M586.5 1054v1"/>
<path class="a" d="M488.5 1005.5V1055.5H596.5V1005.5M488.5 1005.5h1.5M596.5 1005.5h-3.5M488.5 1015.5h1.5M596.5 1015.5h-3.5M488.5 1025.5h1.5M596.5 1025.5h-3.5M488.5 1035.5h1.5M596.5 1035.5h-3.5M488.5 1045.5h1.5M596.5 1045.5h-3.5M488.5 1055.5h1.5M596.5 1055.5h-3.5"/>
<text class="l" x="480.5" y="1007">100</text><text class="r" x="602" y="1007">10</text>
<text class="l" x="480.5" y="1017.75">80</text><text class="r" x="602" y="1017.75">8</text>
<text class="l" x="480.5" y="1027.75">60</text><text class="r" x="602" y="1027.75">6</text>
<text class="l" x="480.5" y="1037.75">40</text><text class="r" x="602" y="1037.75">4</text>
<text class="l" x="480.5" y="1047.75">20</text><text class="r" x="602" y="1047.75">2</text>
<text class="l" x="480.5" y="1057.75">0</text><text class="r" x="602" y="1057.75">0</text>
<text class="x" x="497.3" y="1070">6</text><text class="x" x="514.8" y="1070">9</text><text class="x" x="533" y="1070">12</text><text class="x" x="550.4" y="1070">15</text><text class="x" x="568.4" y="1070">18</text><text class="x" x="585.2" y="1070">21</text>
</g>
<g>
<text class="t" x="80.8" y="1099.3">W6GY (6%)</text>
<rect class="b" x="83.5" y="1144.1" width="12" height="3.4"/>
<path class="a" d="M71 1147.5h1M72 1146.5h2M74 1145.5h1M75 1144.5h1M76 1143.5h2M78 1142.5h1M79 1141.5h1M80 1140.5h2M82 1139.5h1M83 1138.5h1M84 1137.5h2M86 1136.5h1M87 1135.5h1M88 1134.5h2M90 1133.5h1M90 1133.5h1M91 1134.5h1M92 1135.5h2M94 1136.5h1M95 1137.5h1M96 1138.5h2M98 1139.5h1M99 1140.5h1M100 1141.5h1M101 1142.5h2M103 1143.5h1M104 1144.5h1M105 1145.5h2M107 1146.5h1M108 1147.5h1"/>
<path class="a" d="M26.5 1096.5V1147.5H135.5V1096.5M26.5 1096.5h1.5M135.5 1096.5h-3.5M26.5 1106.7h1.5M135.5 1106.7h-3.5M26.5 1116.9h1.5M135.5 1116.9h-3.5M26.5 1127.1h1.5M135.5 1127.1h-3.5M26.5 1137.3h1.5M135.5 1137.3h-3.5M26.5 1147.5h1.5M135.5 1147.5h-3.5"/>
<text class="l" x="18.5" y="1098">100</text><text class="r" x="141" y="1098">10</text>
<text class="l" x="18.5" y="1108.95">80</text><text class="r" x="141" y="1108.95">8</text>
<text class="l" x="18.5" y="1119.15">60</text><text class="r" x="141" y="1119.15">6</text>
<text class="l" x="18.5" y="1129.35">40</text><text class="r" x="141" y="1129.35">4</text>
<text class="l" x="18.5" y="1139.55">20</text><text class="r" x="141" y="1139.55">2</text>
<text class="l" x="18.5" y="1149.75">0</text><text class="r" x="141" y="1149.75">0</text>
<text class="x" x="35.14" y="1162">6</text><text class="x" x="52.91" y="1162">9</text><text class="x" x="71.38" y="1162">12</text><text class="x" x="89.05" y="1162">15</text><text class="x" x="107.31" y="1162">18</text><text class="x" x="124.38" y="1162">21</text>
</g>
<g>
<text class="t" x="235.6" y="1099">W6WX (73%)</text>
<rect class="b" x="220.5" y="1141.3" width="12" height="7.2"/>
<rect class="b" x="238.5" y="1108.9" width="13" height="39.6"/>
<rect class="b" x="257.5" y="1132.3" width="12" height="16.2"/>
<path class="a" d="M208 1148.5h1M209 1147.5h1M210 1146.5h1M211 1145.5h1M212 1144.5h1M213 1143.5h1M214 1142.5h1M215 1141.5h1M216 1140.5h1M217 1139.5h2M219 1138.5h1M220 1137.5h1M221 1136.5h1M222 1135.5h1M223 1134.5h1M224 1133.5h1M225 1132.5h1M226 1131.5h1M226 1131.5h1M227 1130.5h2M229 1129.5h2M231 1128.5h2M233 1127.5h1M234 1126.5h2M236 1125.5h2M238 1124.5h1M239 1123.5h2M241 1122.5h2M243 1121.5h2M245 1120.5h1M245 1120.5h2M247 1121.5h3M250 1122.5h2M252 1123.5h3M255 1124.5h3M258 1125.5h2M260 1126.5h3M263 1127.5h2M264.5 1127v1M265.5 1128v1M266.5 1129v1M267.5 1130v2M268.5 1132v1M269.5 1133v1M270.5 1134v1M271.5 1135v1M272.5 1136v1M273.5 1137v2M274.5 1139v1M275.5 1140v1M276.5 1141v1M277.5 1142v1M278.5 1143v1M279.5 1144v2M280.5 1146v1M281.5 1147v1"/>
<path class="a" d="M180.5 1094.5V1148.5H291.5V1094.5M180.5 1094.5h1.5M291.5 1094.5h-3.5M180.5 1105.3h1.5M291.5 1105.3h-3.5M180.5 1116.1h1.5M291.5 1116.1h-3.5M180.5 1126.9h1.5M291.5 1126.9h-3.5M180.5 1137.7h1.5M291.5 1137.7h-3.5M180.5 1148.5h1.5M291.5 1148.5h-3.5"/>
<text class="l" x="172.5" y="1096">100</text><text class="r" x="297" y="1096">10</text>
<text class="l" x="172.5" y="1107.55">80</text><text class="r" x="297" y="1107.55">8</text>
<text class="l" x="172.5" y="1118.35">60</text><text class="r" x="297" y="1118.35">6</text>
<text class="l" x="172.5" y="1129.15">40</text><text class="r" x="297" y="1129.15">4</text>
<text class="l" x="172.5" y="1139.95">20</text><text class="r" x="297" y="1139.95">2</text>
<text class="l" x="172.5" y="1150.75">0</text><text class="r" x="297" y="1150.75">0</text>
<text class="x" x="189.3" y="1163">6</text><text class="x" x="207.41" y="1163">9</text><text class="x" x="226.21" y="1163">12</text><text class="x" x="244.21" y="1163">15</text><text class="x" x="262.81" y="1163">18</text><text class="x" x="280.22" y="1163">21</text>
</g>
<g>
<text class="t" x="388.8" y="1099">W7JPI (26%)</text>
<rect class="b" x="391.5" y="1144.84" width="12" height="1.67"/>
<rect class="b" x="409.5" y="1134.84" width="12" height="11.66"/>
<path class="a" d="M379 1146.5h1M380 1145.5h1M381 1144.5h1M382 1143.5h2M384 1142.5h1M385 1141.5h1M386 1140.5h1M387 1139.5h1M388 1138.5h2M390 1137.5h1M391 1136.5h1M392 1135.5h1M393 1134.5h1M394 1133.5h2M396 1132.5h1M397 1131.5h1M397 1131.5h2M399 1132.5h3M402 1133.5h3M405 1134.5h3M408 1135.5h3M411 1136.5h3M414 1137.5h2M415 1137.5h1M416 1138.5h2M418 1139.5h2M420 1140.5h2M422 1141.5h2M424 1142.5h2M426 1143.5h2M428 1144.5h2M430 1145.5h2M432 1146.5h1"/>
<path class="a" d="M334.5 1096.5V1146.5H442.5V1096.5M334.5 1096.5h1.5M442.5 1096.5h-3.5M334.5 1106.5h1.5M442.5 1106.5h-3.5M334.5 1116.5h1.5M442.5 1116.5h-3.5M334.5 1126.5h1.5M442.5 1126.5h-3.5M334.5 1136.5h1.5M442.5 1136.5h-3.5M334.5 1146.5h1.5M442.5 1146.5h-3.5"/>
<text class="l" x="326.5" y="1098">100</text><text class="r" x="448" y="1098">10</text>
<text class="l" x="326.5" y="1108.75">80</text><text class="r" x="448" y="1108.75">8</text>
<text class="l" x="326.5" y="1118.75">60</text><text class="r" x="448" y="1118.75">6</text>
<text class="l" x="326.5" y="1128.75">40</text><text class="r" x="448" y="1128.75">4</text>
<text class="l" x="326.5" y="1138.75">20</text><text class="r" x="448" y="1138.75">2</text>
<text class="l" x="326.5" y="1148.75">0</text><text class="r" x="448" y="1148.75">0</text>
<text class="x" x="343.3" y="1161">6</text><text class="x" x="360.8" y="1161">9</text><text class="x" x="379" y="1161">12</text><text class="x" x="396.4" y="1161">15</text><text class="x" x="414.4" y="1161">18</text><text class="x" x="431.2" y="1161">21</text>
</g>
<g>
<text class="t" x="542.8" y="1099">W8BEP (3%)</text>
<rect class="b" x="563.5" y="1144.84" width="12" height="1.67"/>
<path class="a" d="M551.5 1146v1M552.5 1145v1M553.5 1144v1M554.5 1143v1M555.5 1142v1M556.5 1140v2M557.5 1139v1M558.5 1138v1M559.5 1137v1M560.5 1136v1M561.5 1135v1M562.5 1134v1M563.5 1133v1M564.5 1132v1M565.5 1130v2M566.5 1129v1M567.5 1128v1M568.5 1127v1M569.5 1126v1M569.5 1126v1M570.5 1127v1M571.5 1128v1M572.5 1129v1M573.5 1130v1M574.5 1131v2M575.5 1133v1M576.5 1134v1M577.5 1135v1M578.5 1136v1M579.5 1137v1M580.5 1138v1M581.5 1139v1M582.5 1140v1M583.5 1141v2M584.5 1143v1M585.5 1144v1M586.5 1145v1"/>
<path class="a" d="M488.5 1096.5V1146.5H596.5V1096.5M488.5 1096.5h1.5M596.5 1096.5h-3.5M488.5 1106.5h1.5M596.5 1106.5h-3.5M488.5 1116.5h1.5M596.5 1116.5h-3.5M488.5 1126.5h1.5M596.5 1126.5h-3.5M488.5 1136.5h1.5M596.5 1136.5h-3.5M488.5 1146.5h1.5M596.5 1146.5h-3.5"/>
<text class="l" x="480.5" y="1098">100</text><text class="r" x="602" y="1098">10</text>
<text class="l" x="480.5" y="1108.75">80</text><text class="r" x="602" y="1108.75">8</text>
<text class="l" x="480.5" y="1118.75">60</text><text class="r" x="602" y="1118.75">6</text>
<text class="l" x="480.5" y="1128.75">40</text><text class="r" x="602" y="1128.75">4</text>
<text class="l" x="480.5" y="1138.75">20</text><text class="r" x="602" y="1138.75">2</text>
<text class="l" x="480.5" y="1148.75">0</text><text class="r" x="602" y="1148.75">0</text>
<text class="x" x="497.3" y="1161">6</text><text class="x" x="514.8" y="1161">9</text><text class="x" x="533" y="1161">12</text><text class="x" x="550.4" y="1161">15</text><text class="x" x="568.4" y="1161">18</text><text class="x" x="585.2" y="1161">21</text>
</g>
<g>
<text class="t" x="80.8" y="1187.3">WA1RAJ (50%)</text>
<rect class="b" x="65.5" y="1222.16" width="12" height="13.33"/>
<rect class="b" x="83.5" y="1214.75" width="12" height="20.75"/>
<rect class="b" x="101.5" y="1224.75" width="12" height="10.75"/>
<path class="a" d="M53.5 1235v1M54.5 1234v1M55.5 1233v1M56.5 1232v1M57.5 1231v1M58.5 1230v1M59.5 1229v1M60.5 1228v1M61.5 1227v1M62.5 1225v2M63.5 1224v1M64.5 1223v1M65.5 1222v1M66.5 1221v1M67.5 1220v1M68.5 1219v1M69.5 1218v1M70.5 1217v1M71.5 1216v1M71 1216.5h9M80 1215.5h10M89 1215.5h3M92 1216.5h6M98 1217.5h6M104 1218.5h4M107 1218.5h1M108 1219.5h1M109 1220.5h1M110 1221.5h1M111 1222.5h1M112 1223.5h1M113 1224.5h1M114 1225.5h1M115 1226.5h1M116 1227.5h2M118 1228.5h1M119 1229.5h1M120 1230.5h1M121 1231.5h1M122 1232.5h1M123 1233.5h1M124 1234.5h1"/>
<path class="a" d="M26.5 1185.5V1235.5H134.5V1185.5M26.5 1185.5h1.5M134.5 1185.5h-3.5M26.5 1195.5h1.5M134.5 1195.5h-3.5M26.5 1205.5h1.5M134.5 1205.5h-3.5M26.5 1215.5h1.5M134.5 1215.5h-3.5M26.5 1225.5h1.5M134.5 1225.5h-3.5M26.5 1235.5h1.5M134.5 1235.5h-3.5"/>
<text class="l" x="18.5" y="1187">100</text><text class="r" x="140" y="1187">10</text>
<text class="l" x="18.5" y="1197.75">80</text><text class="r" x="140" y="1197.75">8</text>
<text class="l" x="18.5" y="1207.75">60</text><text class="r" x="140" y="1207.75">6</text>
<text class="l" x="18.5" y="1217.75">40</text><text class="r" x="140" y="1217.75">4</text>
<text class="l" x="18.5" y="1227.75">20</text><text class="r" x="140" y="1227.75">2</text>
<text class="l" x="18.5" y="1237.75">0</text><text class="r" x="140" y="1237.75">0</text>
<text class="x" x="35.3" y="1250">6</text><text class="x" x="52.8" y="1250">9</text><text class="x" x="71" y="1250">12</text><text class="x" x="88.4" y="1250">15</text><text class="x" x="106.4" y="1250">18</text><text class="x" x="123.2" y="1250">21</text>
</g>
<g>
<text class="t" x="234.8" y="1187.3">WA6APQ (30%)</text>
<rect class="b" x="237.5" y="1227.16" width="12" height="8.34"/>
<rect class="b" x="255.5" y="1224.75" width="12" height="10.75"/>
<path class="a" d="M225 1235.5h1M226 1234.5h1M227 1233.5h2M229 1232.5h1M230 1231.5h1M231 1230.5h2M233 1229.5h1M234 1228.5h1M235 1227.5h1M236 1226.5h2M238 1225.5h1M239 1224.5h1M240 1223.5h2M242 1222.5h1M243 1221.5h1M243 1221.5h2M245 1222.5h2M247 1223.5h2M249 1224.5h2M251 1225.5h3M254 1226.5h2M256 1227.5h2M258 1228.5h2M260 1229.5h2M261 1229.5h2M263 1230.5h3M266 1231.5h3M269 1232.5h3M272 1233.5h3M275 1234.5h3M278 1235.5h1"/>
<path class="a" d="M180.5 1185.5V1235.5H288.5V1185.5M180.5 1185.5h1.5M288.5 1185.5h-3.5M180.5 1195.5h1.5M288.5 1195.5h-3.5M180.5 1205.5h1.5M288.5 1205.5h-3.5M180.5 1215.5h1.5M288.5 1215.5h-3.5M180.5 1225.5h1.5M288.5 1225.5h-3.5M180.5 1235.5h1.5M288.5 1235.5h-3.5"/>
<text class="l" x="172.5" y="1187">100</text><text class="r" x="294" y="1187">10</text>
<text class="l" x="172.5" y="1197.75">80</text><text class="r" x="294" y="1197.75">8</text>
<text class="l" x="172.5" y="1207.75">60</text><text class="r" x="294" y="1207.75">6</text>
<text class="l" x="172.5" y="1217.75">40</text><text class="r" x="294" y="1217.75">4</text>
<text class="l" x="172.5" y="1227.75">20</text><text class="r" x="294" y="1227.75">2</text>
<text class="l" x="172.5" y="1237.75">0</text><text class="r" x="294" y="1237.75">0</text>
<text class="x" x="189.3" y="1250">6</text><text class="x" x="206.8" y="1250">9</text><text class="x" x="225" y="1250">12</text><text class="x" x="242.4" y="1250">15</text><text class="x" x="260.4" y="1250">18</text><text class="x" x="277.2" y="1250">21</text>
</g>
<g>
<text class="t" x="388.8" y="1187.3">WA8YWO (16%)</text>
<rect class="b" x="391.5" y="1229.75" width="12" height="5.75"/>
<rect class="b" x="409.5" y="1234.5" width="12" height="1"/>
<path class="a" d="M379 1235.5h2M381 1234.5h2M383 1233.5h2M385 1232.5h2M387 1231.5h3M390 1230.5h2M392 1229.5h2M394 1228.5h2M396 1227.5h2M397 1227.5h2M399 1226.5h2M401 1225.5h3M404 1224.5h2M406 1223.5h3M409 1222.5h3M412 1221.5h2M414 1220.5h2M415 1220.5h1M416 1221.5h1M417 1222.5h1M418 1223.5h2M420 1224.5h1M421 1225.5h1M422 1226.5h1M423 1227.5h1M424 1228.5h2M426 1229.5h1M427 1230.5h1M428 1231.5h1M429 1232.5h1M430 1233.5h2M432 1234.5h1"/>
<path class="a" d="M334.5 1185.5V1235.5H442.5V1185.5M334.5 1185.5h1.5M442.5 1185.5h-3.5M334.5 1195.5h1.5M442.5 1195.5h-3.5M334.5 1205.5h1.5M442.5 1205.5h-3.5M334.5 1215.5h1.5M442.5 1215.5h-3.5M334.5 1225.5h1.5M442.5 1225.5h-3.5M334.5 1235.5h1.5M442.5 1235.5h-3.5"/>
<text class="l" x="326.5" y="1187">100</text><text class="r" x="448" y="1187">10</text>
<text class="l" x="326.5" y="1197.75">80</text><text class="r" x="448" y="1197.75">8</text>
<text class="l" x="326.5" y="1207.75">60</text><text class="r" x="448" y="1207.75">6</text>
<text class="l" x="326.5" y="1217.75">40</text><text class="r" x="448" y="1217.75">4</text>
<text class="l" x="326.5" y="1227.75">20</text><text class="r" x="448" y="1227.75">2</text>
<text class="l" x="326.5" y="1237.75">0</text><text class="r" x="448" y="1237.75">0</text>
<text class="x" x="343.3" y="1250">6</text><text class="x" x="360.8" y="1250">9</text><text class="x" x="379" y="1250">12</text><text class="x" x="396.4" y="1250">15</text><text class="x" x="414.4" y="1250">18</text><text class="x" x="431.2" y="1250">21</text>
</g>
<g>
<text class="t" x="542.8" y="1187.3">WA2NTK (3%)</text>
<rect class="b" x="527.5" y="1234.5" width="12" height="1"/>
<path class="a" d="M515.5 1235v1M516.5 1233v2M517.5 1232v1M518.5 1231v1M519.5 1229v2M520.5 1228v1M521.5 1226v2M522.5 1225v1M523.5 1224v1M524.5 1222v2M525.5 1221v1M526.5 1220v1M527.5 1218v2M528.5 1217v1M529.5 1215v2M530.5 1214v1M531.5 1213v1M532.5 1211v2M533.5 1210v1M533.5 1210v1M534.5 1211v2M535.5 1213v1M536.5 1214v1M537.5 1215v2M538.5 1217v1M539.5 1218v2M540.5 1220v1M541.5 1221v1M542.5 1222v2M543.5 1224v1M544.5 1225v1M545.5 1226v2M546.5 1228v1M547.5 1229v2M548.5 1231v1M549.5 1232v1M550.5 1233v2M551.5 1235v1"/>
<path class="a" d="M488.5 1185.5V1235.5H596.5V1185.5M488.5 1185.5h1.5M596.5 1185.5h-3.5M488.5 1195.5h1.5M596.5 1195.5h-3.5M488.5 1205.5h1.5M596.5 1205.5h-3.5M488.5 1215.5h1.5M596.5 1215.5h-3.5M488.5 1225.5h1.5M596.5 1225.5h-3.5M488.5 1235.5h1.5M596.5 1235.5h-3.5"/>
<text class="l" x="480.5" y="1187">100</text><text class="r" x="602" y="1187">10</text>
<text class="l" x="480.5" y="1197.75">80</text><text class="r" x="602" y="1197.75">8</text>
<text class="l" x="480.5" y="1207.75">60</text><text class="r" x="602" y="1207.75">6</text>
<text class="l" x="480.5" y="1217.75">40</text><text class="r" x="602" y="1217.75">4</text>
<text class="l" x="480.5" y="1227.75">20</text><text class="r" x="602" y="1227.75">2</text>
<text class="l" x="480.5" y="1237.75">0</text><text class="r" x="602" y="1237.75">0</text>
<text class="x" x="497.3" y="1250">6</text><text class="x" x="514.8" y="1250">9</text><text class="x" x="533" y="1250">12</text><text class="x" x="550.4" y="1250">15</text><text class="x" x="568.4" y="1250">18</text><text class="x" x="585.2" y="1250">21</text>
</g>
<g>
<text class="t" x="80.8" y="1279">WB0FTL (60%)</text>
<rect class="b" x="65.5" y="1313.16" width="12" height="13.33"/>
<rect class="b" x="83.5" y="1303.16" width="12" height="23.34"/>
<rect class="b" x="101.5" y="1319.84" width="12" height="6.67"/>
<path class="a" d="M53.5 1326v1M54.5 1325v1M55.5 1324v1M56.5 1323v1M57.5 1322v1M58.5 1321v1M59.5 1320v1M60.5 1319v1M61.5 1318v1M62.5 1316v2M63.5 1315v1M64.5 1314v1M65.5 1313v1M66.5 1312v1M67.5 1311v1M68.5 1310v1M69.5 1309v1M70.5 1308v1M71.5 1307v1M71 1307.5h9M80 1308.5h10M89 1308.5h19M107 1308.5h1M108 1309.5h1M109 1310.5h1M110 1311.5h1M111 1312.5h1M112 1313.5h1M113 1314.5h1M114 1315.5h1M115 1316.5h1M116 1317.5h1M117 1318.5h1M118 1319.5h1M119 1320.5h1M120 1321.5h1M121 1322.5h1M122 1323.5h1M123 1324.5h1M124 1325.5h1"/>
<path class="a" d="M26.5 1276.5V1326.5H134.5V1276.5M26.5 1276.5h1.5M134.5 1276.5h-3.5M26.5 1286.5h1.5M134.5 1286.5h-3.5M26.5 1296.5h1.5M134.5 1296.5h-3.5M26.5 1306.5h1.5M134.5 1306.5h-3.5M26.5 1316.5h1.5M134.5 1316.5h-3.5M26.5 1326.5h1.5M134.5 1326.5h-3.5"/>
<text class="l" x="18.5" y="1278">100</text><text class="r" x="140" y="1278">10</text>
<text class="l" x="18.5" y="1288.75">80</text><text class="r" x="140" y="1288.75">8</text>
<text class="l" x="18.5" y="1298.75">60</text><text class="r" x="140" y="1298.75">6</text>
<text class="l" x="18.5" y="1308.75">40</text><text class="r" x="140" y="1308.75">4</text>
<text class="l" x="18.5" y="1318.75">20</text><text class="r" x="140" y="1318.75">2</text>
<text class="l" x="18.5" y="1328.75">0</text><text class="r" x="140" y="1328.75">0</text>
<text class="x" x="35.3" y="1341">6</text><text class="x" x="52.8" y="1341">9</text><text class="x" x="71" y="1341">12</text><text class="x" x="88.4" y="1341">15</text><text class="x" x="106.4" y="1341">18</text><text class="x" x="123.2" y="1341">21</text>
</g>
<g>
<text class="t" x="234.8" y="1279">WB4WOR (90%)</text>
<rect class="b" x="219.5" y="1289.84" width="12" height="36.66"/>
<rect class="b" x="237.5" y="1283.16" width="12" height="43.34"/>
<rect class="b" x="255.5" y="1288.16" width="12" height="38.34"/>
<rect class="b" x="273.5" y="1320.5" width="12" height="6"/>
<path class="a" d="M207.5 1326v1M208.5 1324v2M209.5 1322v2M210.5 1321v1M211.5 1319v2M212.5 1317v2M213.5 1316v1M214.5 1314v2M215.5 1312v2M216.5 1311v1M217.5 1309v2M218.5 1307v2M219.5 1306v1M220.5 1304v2M221.5 1302v2M222.5 1301v1M223.5 1299v2M224.5 1297v2M225.5 1296v1M225 1296.5h19M243 1296.5h1M244 1297.5h2M246 1298.5h2M248 1299.5h2M250 1300.5h2M252 1301.5h2M254 1302.5h2M256 1303.5h2M258 1304.5h2M260 1305.5h2M261 1305.5h1M262 1306.5h1M263 1307.5h1M264 1308.5h2M266 1309.5h1M267 1310.5h1M268 1311.5h1M269 1312.5h1M270 1313.5h2M272 1314.5h1M273 1315.5h1M274 1316.5h1M275 1317.5h1M276 1318.5h2M278 1319.5h1"/>
<path class="a" d="M180.5 1276.5V1326.5H288.5V1276.5M180.5 1276.5h1.5M288.5 1276.5h-3.5M180.5 1286.5h1.5M288.5 1286.5h-3.5M180.5 1296.5h1.5M288.5 1296.5h-3.5M180.5 1306.5h1.5M288.5 1306.5h-3.5M180.5 1316.5h1.5M288.5 1316.5h-3.5M180.5 1326.5h1.5M288.5 1326.5h-3.5"/>
<text class="l" x="172.5" y="1278">100</text><text class="r" x="294" y="1278">10</text>
<text class="l" x="172.5" y="1288.75">80</text><text class="r" x="294" y="1288.75">8</text>
<text class="l" x="172.5" y="1298.75">60</text><text class="r" x="294" y="1298.75">6</text>
<text class="l" x="172.5" y="1308.75">40</text><text class="r" x="294" y="1308.75">4</text>
<text class="l" x="172.5" y="1318.75">20</text><text class="r" x="294" y="1318.75">2</text>
<text class="l" x="172.5" y="1328.75">0</text><text class="r" x="294" y="1328.75">0</text>
<text class="x" x="189.3" y="1341">6</text><text class="x" x="206.8" y="1341">9</text><text class="x" x="225" y="1341">12</text><text class="x" x="242.4" y="1341">15</text><text class="x" x="260.4" y="1341">18</text><text class="x" x="277.2" y="1341">21</text>
</g>
<g>
<text class="t" x="388.8" y="1279">WB5UAA (36%)</text>
<rect class="b" x="373.5" y="1318.16" width="12" height="8.34"/>
<rect class="b" x="391.5" y="1313.16" width="12" height="13.33"/>
<rect class="b" x="409.5" y="1318.16" width="12" height="8.34"/>
<path class="a" d="M361 1326.5h1M362 1325.5h1M363 1324.5h1M364 1323.5h1M365 1322.5h1M366 1321.5h1M367 1320.5h1M368 1319.5h1M369 1318.5h1M370 1317.5h2M372 1316.5h1M373 1315.5h1M374 1314.5h1M375 1313.5h1M376 1312.5h1M377 1311.5h1M378 1310.5h1M379 1309.5h1M379 1309.5h19M397 1309.5h2M399 1310.5h2M401 1311.5h2M403 1312.5h2M405 1313.5h3M408 1314.5h2M410 1315.5h2M412 1316.5h2M414 1317.5h2M415 1317.5h1M416 1318.5h2M418 1319.5h2M420 1320.5h2M422 1321.5h2M424 1322.5h2M426 1323.5h2M428 1324.5h2M430 1325.5h2M432 1326.5h1"/>
<path class="a" d="M334.5 1276.5V1326.5H442.5V1276.5M334.5 1276.5h1.5M442.5 1276.5h-3.5M334.5 1286.5h1.5M442.5 1286.5h-3.5M334.5 1296.5h1.5M442.5 1296.5h-3.5M334.5 1306.5h1.5M442.5 1306.5h-3.5M334.5 1316.5h1.5M442.5 1316.5h-3.5M334.5 1326.5h1.5M442.5 1326.5h-3.5"/>
<text class="l" x="326.5" y="1278">100</text><text class="r" x="448" y="1278">10</text>
<text class="l" x="326.5" y="1288.75">80</text><text class="r" x="448" y="1288.75">8</text>
<text class="l" x="326.5" y="1298.75">60</text><text class="r" x="448" y="1298.75">6</text>
<text class="l" x="326.5" y="1308.75">40</text><text class="r" x="448" y="1308.75">4</text>
<text class="l" x="326.5" y="1318.75">20</text><text class="r" x="448" y="1318.75">2</text>
<text class="l" x="326.5" y="1328.75">0</text><text class="r" x="448" y="1328.75">0</text>
<text class="x" x="343.3" y="1341">6</text><text class="x" x="360.8" y="1341">9</text><text class="x" x="379" y="1341">12</text><text class="x" x="396.4" y="1341">15</text><text class="x" x="414.4" y="1341">18</text><text class="x" x="431.2" y="1341">21</text>
</g>
<g>
<text class="t" x="542.8" y="1279">WB9VMY (36%)</text>
<rect class="b" x="527.5" y="1319.44" width="12" height="7.06"/>
<rect class="b" x="545.5" y="1314.14" width="12" height="12.36"/>
<rect class="b" x="563.5" y="1324.74" width="12" height="1.76"/>
<path class="a" d="M515 1326.5h1M516 1325.5h1M517 1324.5h1M518 1323.5h1M519 1322.5h2M521 1321.5h1M522 1320.5h1M523 1319.5h1M524 1318.5h1M525 1317.5h1M526 1316.5h1M527 1315.5h1M528 1314.5h2M530 1313.5h1M531 1312.5h1M532 1311.5h1M533 1310.5h1M533 1310.5h2M535 1311.5h4M539 1312.5h3M542 1313.5h4M546 1314.5h4M550 1315.5h2M551 1315.5h2M553 1316.5h3M556 1317.5h3M559 1318.5h3M562 1319.5h3M565 1320.5h3M568 1321.5h2M569 1321.5h3M572 1322.5h4M576 1323.5h5M581 1324.5h4M585 1325.5h2"/>
<path class="a" d="M487.5 1273.5V1326.5H597.5V1273.5M487.5 1273.5h2.5M597.5 1273.5h-3.5M487.5 1284.1h2.5M597.5 1284.1h-3.5M487.5 1294.7h2.5M597.5 1294.7h-3.5M487.5 1305.3h2.5M597.5 1305.3h-3.5M487.5 1315.9h2.5M597.5 1315.9h-3.5M487.5 1326.5h2.5M597.5 1326.5h-3.5"/>
<text class="l" x="480.5" y="1275">100</text><text class="r" x="603" y="1275">10</text>
<text class="l" x="480.5" y="1286.35">80</text><text class="r" x="603" y="1286.35">8</text>
<text class="l" x="480.5" y="1296.95">60</text><text class="r" x="603" y="1296.95">6</text>
<text class="l" x="480.5" y="1307.55">40</text><text class="r" x="603" y="1307.55">4</text>
<text class="l" x="480.5" y="1318.15">20</text><text class="r" x="603" y="1318.15">2</text>
<text class="l" x="480.5" y="1328.75">0</text><text class="r" x="603" y="1328.75">0</text>
<text class="x" x="497.3" y="1341">6</text><text class="x" x="514.8" y="1341">9</text><text class="x" x="533" y="1341">12</text><text class="x" x="550.4" y="1341">15</text><text class="x" x="568.4" y="1341">18</text><text class="x" x="585.2" y="1341">21</text>
</g>
<g>
<text class="t" x="80.8" y="1367.5">WJ5O (56%)</text>
<rect class="b" x="65.5" y="1396.43" width="12" height="19.07"/>
<rect class="b" x="83.5" y="1398.17" width="12" height="17.33"/>
<rect class="b" x="101.5" y="1401.63" width="13" height="13.87"/>
<path class="a" d="M53.5 1415v1M54.5 1414v1M55.5 1412v2M56.5 1411v1M57.5 1410v1M58.5 1408v2M59.5 1407v1M60.5 1406v1M61.5 1405v1M62.5 1403v2M63.5 1402v1M64.5 1401v1M65.5 1400v1M66.5 1398v2M67.5 1397v1M68.5 1396v1M69.5 1394v2M70.5 1393v1M71.5 1392v1M71 1392.5h3M74 1393.5h5M79 1394.5h4M83 1395.5h5M88 1396.5h3M90 1396.5h1M91 1397.5h2M93 1398.5h2M95 1399.5h2M97 1400.5h2M99 1401.5h2M101 1402.5h2M103 1403.5h2M105 1404.5h2M107 1405.5h2M108 1405.5h1M109 1406.5h2M111 1407.5h2M113 1408.5h2M115 1409.5h2M117 1410.5h1M118 1411.5h2M120 1412.5h2M122 1413.5h2M124 1414.5h2"/>
<path class="a" d="M26.5 1363.5V1415.5H135.5V1363.5M26.5 1363.5h1.5M135.5 1363.5h-3.5M26.5 1373.9h1.5M135.5 1373.9h-3.5M26.5 1384.3h1.5M135.5 1384.3h-3.5M26.5 1394.7h1.5M135.5 1394.7h-3.5M26.5 1405.1h1.5M135.5 1405.1h-3.5M26.5 1415.5h1.5M135.5 1415.5h-3.5"/>
<text class="l" x="18.5" y="1365">100</text><text class="r" x="141" y="1365">10</text>
<text class="l" x="18.5" y="1376.15">80</text><text class="r" x="141" y="1376.15">8</text>
<text class="l" x="18.5" y="1386.55">60</text><text class="r" x="141" y="1386.55">6</text>
<text class="l" x="18.5" y="1396.95">40</text><text class="r" x="141" y="1396.95">4</text>
<text class="l" x="18.5" y="1407.35">20</text><text class="r" x="141" y="1407.35">2</text>
<text class="l" x="18.5" y="1417.75">0</text><text class="r" x="141" y="1417.75">0</text>
<text class="x" x="35.14" y="1430">6</text><text class="x" x="52.91" y="1430">9</text><text class="x" x="71.38" y="1430">12</text><text class="x" x="89.05" y="1430">15</text><text class="x" x="107.31" y="1430">18</text><text class="x" x="124.38" y="1430">21</text>
</g>
<g>
<text class="t" x="234.8" y="1367.5">WN2A (93%)</text>
<rect class="b" x="201.5" y="1412.03" width="12" height="3.47"/>
<rect class="b" x="219.5" y="1377.37" width="12" height="38.13"/>
<rect class="b" x="237.5" y="1368.7" width="12" height="46.8"/>
<rect class="b" x="255.5" y="1372.17" width="12" height="43.33"/>
<rect class="b" x="273.5" y="1409.52" width="12" height="5.98"/>
<path class="a" d="M189 1415.5h1M190 1414.5h1M191 1413.5h1M192 1412.5h1M193 1411.5h1M194 1410.5h1M195 1409.5h1M196 1408.5h1M197 1407.5h1M198 1406.5h1M199 1405.5h1M200 1404.5h1M201 1403.5h1M202 1402.5h1M203 1401.5h1M204 1400.5h1M205 1399.5h1M206 1398.5h1M207 1397.5h1M207 1397.5h2M209 1396.5h2M211 1395.5h2M213 1394.5h2M215 1393.5h3M218 1392.5h2M220 1391.5h2M222 1390.5h2M224 1389.5h2M225 1389.5h5M230 1390.5h9M239 1391.5h5M243 1391.5h4M247 1392.5h6M253 1393.5h6M259 1394.5h4M262 1394.5h2M264 1393.5h4M268 1392.5h3M271 1391.5h4M275 1390.5h4M279 1389.5h1"/>
<path class="a" d="M179.5 1363.5V1415.5H289.5V1363.5M179.5 1363.5h2.5M289.5 1363.5h-3.5M179.5 1373.9h2.5M289.5 1373.9h-3.5M179.5 1384.3h2.5M289.5 1384.3h-3.5M179.5 1394.7h2.5M289.5 1394.7h-3.5M179.5 1405.1h2.5M289.5 1405.1h-3.5M179.5 1415.5h2.5M289.5 1415.5h-3.5"/>
<text class="l" x="172.5" y="1365">100</text><text class="r" x="295" y="1365">10</text>
<text class="l" x="172.5" y="1376.15">80</text><text class="r" x="295" y="1376.15">8</text>
<text class="l" x="172.5" y="1386.55">60</text><text class="r" x="295" y="1386.55">6</text>
<text class="l" x="172.5" y="1396.95">40</text><text class="r" x="295" y="1396.95">4</text>
<text class="l" x="172.5" y="1407.35">20</text><text class="r" x="295" y="1407.35">2</text>
<text class="l" x="172.5" y="1417.75">0</text><text class="r" x="295" y="1417.75">0</text>
<text class="x" x="189.35" y="1430">6</text><text class="x" x="206.95" y="1430">9</text><text class="x" x="225.25" y="1430">12</text><text class="x" x="242.75" y="1430">15</text><text class="x" x="260.85" y="1430">18</text><text class="x" x="277.75" y="1430">21</text>
</g>
<g>
<text class="t" x="388.8" y="1367.5">WN4OAA (13%)</text>
<rect class="b" x="373.5" y="1414.72" width="12" height="0.78"/>
<rect class="b" x="391.5" y="1410.3" width="12" height="5.2"/>
<rect class="b" x="409.5" y="1412.03" width="13" height="3.47"/>
<path class="a" d="M361.5 1415v1M362.5 1414v1M363.5 1413v1M364.5 1411v2M365.5 1410v1M366.5 1409v1M367.5 1408v1M368.5 1407v1M369.5 1406v1M370.5 1404v2M371.5 1403v1M372.5 1402v1M373.5 1401v1M374.5 1400v1M375.5 1399v1M376.5 1397v2M377.5 1396v1M378.5 1395v1M379.5 1394v1M379 1394.5h2M381 1393.5h3M384 1392.5h2M386 1391.5h3M389 1390.5h3M392 1389.5h2M394 1388.5h3M397 1387.5h2M398 1387.5h2M400 1388.5h4M404 1389.5h3M407 1390.5h4M411 1391.5h4M415 1392.5h2M416.5 1392v1M417.5 1393v1M418.5 1394v2M419.5 1396v1M420.5 1397v1M421.5 1398v2M422.5 1400v1M423.5 1401v1M424.5 1402v1M425.5 1403v2M426.5 1405v1M427.5 1406v1M428.5 1407v1M429.5 1408v2M430.5 1410v1M431.5 1411v1M432.5 1412v2M433.5 1414v1"/>
<path class="a" d="M334.5 1363.5V1415.5H443.5V1363.5M334.5 1363.5h1.5M443.5 1363.5h-3.5M334.5 1373.9h1.5M443.5 1373.9h-3.5M334.5 1384.3h1.5M443.5 1384.3h-3.5M334.5 1394.7h1.5M443.5 1394.7h-3.5M334.5 1405.1h1.5M443.5 1405.1h-3.5M334.5 1415.5h1.5M443.5 1415.5h-3.5"/>
<text class="l" x="326.5" y="1365">100</text><text class="r" x="449" y="1365">10</text>
<text class="l" x="326.5" y="1376.15">80</text><text class="r" x="449" y="1376.15">8</text>
<text class="l" x="326.5" y="1386.55">60</text><text class="r" x="449" y="1386.55">6</text>
<text class="l" x="326.5" y="1396.95">40</text><text class="r" x="449" y="1396.95">4</text>
<text class="l" x="326.5" y="1407.35">20</text><text class="r" x="449" y="1407.35">2</text>
<text class="l" x="326.5" y="1417.75">0</text><text class="r" x="449" y="1417.75">0</text>
<text class="x" x="343.13" y="1430">6</text><text class="x" x="360.91" y="1430">9</text><text class="x" x="379.38" y="1430">12</text><text class="x" x="397.05" y="1430">15</text><text class="x" x="415.31" y="1430">18</text><text class="x" x="432.39" y="1430">21</text>
</g>
<g>
<text class="t" x="542.8" y="1367.5">WY5I (76%)</text>
<rect class="b" x="527.5" y="1407.7" width="12" height="7.8"/>
<rect class="b" x="545.5" y="1384.3" width="12" height="31.2"/>
<rect class="b" x="563.5" y="1400.52" width="12" height="14.98"/>
<path class="a" d="M515.5 1415v1M516.5 1414v1M517.5 1412v2M518.5 1411v1M519.5 1410v1M520.5 1408v2M521.5 1407v1M522.5 1406v1M523.5 1405v1M524.5 1403v2M525.5 1402v1M526.5 1401v1M527.5 1400v1M528.5 1398v2M529.5 1397v1M530.5 1396v1M531.5 1394v2M532.5 1393v1M533.5 1392v1M533 1392.5h3M536 1393.5h6M542 1394.5h6M548 1395.5h4M551 1395.5h2M553 1394.5h2M555 1393.5h3M558 1392.5h2M560 1391.5h3M563 1390.5h3M566 1389.5h2M568 1388.5h2M569.5 1388v1M570.5 1389v2M571.5 1391v1M572.5 1392v2M573.5 1394v1M574.5 1395v2M575.5 1397v1M576.5 1398v2M577.5 1400v1M578.5 1401v2M579.5 1403v1M580.5 1404v2M581.5 1406v1M582.5 1407v2M583.5 1409v1M584.5 1410v2M585.5 1412v1M586.5 1413v2"/>
<path class="a" d="M487.5 1363.5V1415.5H597.5V1363.5M487.5 1363.5h2.5M597.5 1363.5h-3.5M487.5 1373.9h2.5M597.5 1373.9h-3.5M487.5 1384.3h2.5M597.5 1384.3h-3.5M487.5 1394.7h2.5M597.5 1394.7h-3.5M487.5 1405.1h2.5M597.5 1405.1h-3.5M487.5 1415.5h2.5M597.5 1415.5h-3.5"/>
<text class="l" x="480.5" y="1365">100</text><text class="r" x="603" y="1365">10</text>
<text class="l" x="480.5" y="1376.15">80</text><text class="r" x="603" y="1376.15">8</text>
<text class="l" x="480.5" y="1386.55">60</text><text class="r" x="603" y="1386.55">6</text>
<text class="l" x="480.5" y="1396.95">40</text><text class="r" x="603" y="1396.95">4</text>
<text class="l" x="480.5" y="1407.35">20</text><text class="r" x="603" y="1407.35">2</text>
<text class="l" x="480.5" y="1417.75">0</text><text class="r" x="603" y="1417.75">0</text>
<text class="x" x="497.3" y="1430">6</text><text class="x" x="514.8" y="1430">9</text><text class="x" x="533" y="1430">12</text><text class="x" x="550.4" y="1430">15</text><text class="x" x="568.4" y="1430">18</text><text class="x" x="585.2" y="1430">21</text>
</g>
</svg>
</body></html>
